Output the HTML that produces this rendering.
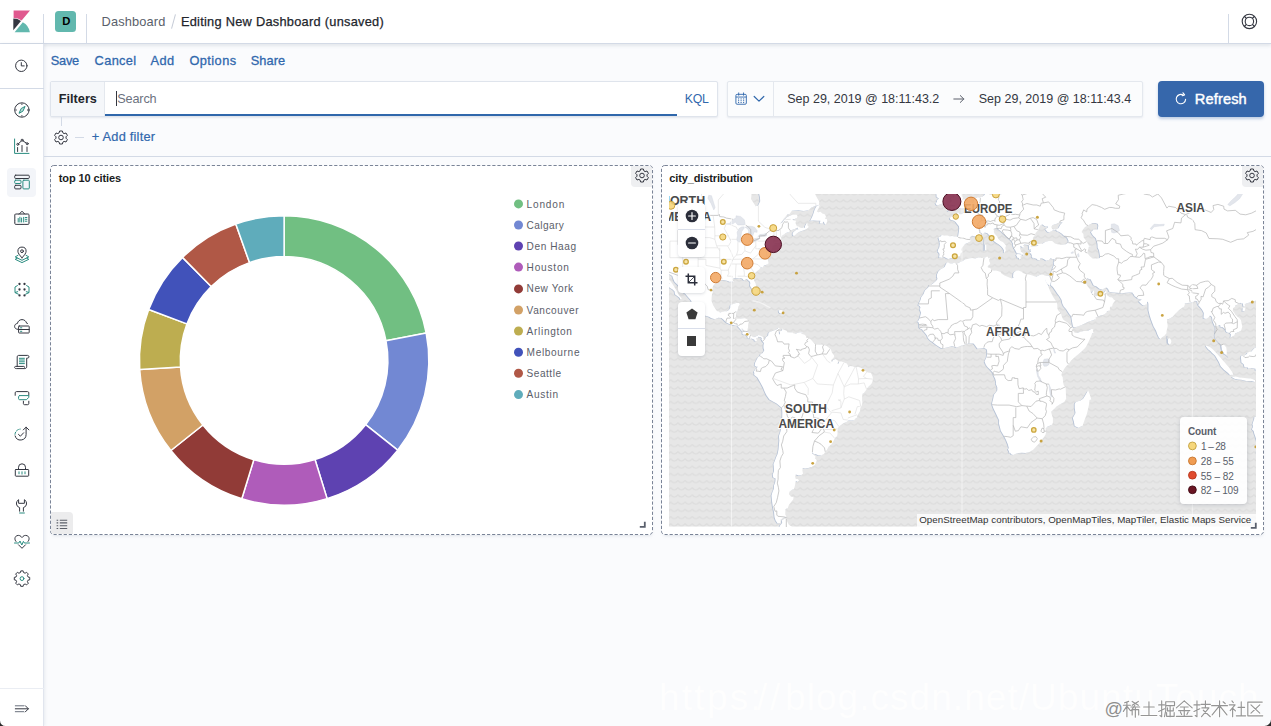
<!DOCTYPE html>
<html>
<head>
<meta charset="utf-8">
<title>Kibana Dashboard</title>
<style>
*{box-sizing:border-box;margin:0;padding:0}
html,body{width:1271px;height:726px;overflow:hidden;background:#fafbfd;font-family:"Liberation Sans",sans-serif;color:#343741}
.abs{position:absolute}
.t{position:absolute;white-space:nowrap;line-height:1}
#header{left:0;top:0;width:1271px;height:44px;background:#fff;border-bottom:1px solid #d3dae6;box-shadow:0 2px 3px rgba(152,162,179,.22)}
#side{left:0;top:44px;width:44px;height:682px;background:#fff;border-right:1px solid #e1e5ee;box-shadow:1px 0 3px rgba(152,162,179,.18)}
.vsep{position:absolute;width:1px;background:#d3dae6;top:14px;height:30px}
.link{color:#2f67ab}
.nav{position:absolute;left:13.5px;width:16px;height:16px;overflow:visible}
.nav *{fill:none;stroke-width:1;stroke-linecap:round;stroke-linejoin:round}
.nav .fd *{fill:#343741;stroke:none}
.d{stroke:#343741}
.g{stroke:#2a8c80}
.panel{position:absolute;background:#fff;border-radius:4px;box-shadow:0 2px 3px -1px rgba(152,162,179,.25)}
.ctl{position:absolute;background:#fff;border-radius:4px;box-shadow:0 1px 3px rgba(90,100,120,.22)}
.lg{font-size:10.8px;color:#5b5e6a}
</style>
</head>
<body>
<!-- HEADER -->
<div id="header" class="abs"></div>
<svg class="abs" style="left:13px;top:9.5px" width="18" height="23" viewBox="0 0 18 23">
  <path d="M0.6 0.4 H17 L8.6 10.4 A14 14 0 0 0 0.6 8 Z" fill="#e0598f"/>
  <path d="M0.3 8.6 A13 13 0 0 1 8 11 L0.3 20.2 Z" fill="#343741"/>
  <path d="M9.8 12.2 A14 14 0 0 1 16.9 22.2 H1.6 Z" fill="#62b8ae"/>
</svg>
<div class="vsep" style="left:43px"></div>
<div class="abs" style="left:55px;top:11px;width:21px;height:21px;border-radius:3.5px;background:#62b8ae"></div>
<div class="vsep" style="left:86px"></div>
<div class="abs" style="left:172.6px;top:14px;width:1px;height:15px;background:#c6ccd7;transform:rotate(15deg)"></div>
<div class="vsep" style="left:1228px"></div>
<svg class="abs" style="left:1241px;top:13px" width="17" height="17" viewBox="0 0 17 17" fill="none" stroke="#343741" stroke-width="1.1">
  <circle cx="8.4" cy="8.4" r="7.2"/><circle cx="8.4" cy="8.4" r="4.2"/>
  <path d="M3.3 3.3l2.1 2.1M13.5 3.3l-2.1 2.1M3.3 13.5l2.1-2.1M13.5 13.5l-2.1-2.1" stroke-width="1.3"/>
</svg>

<!-- SIDEBAR -->
<div id="side" class="abs"></div>
<div class="abs" style="left:0;top:88px;width:44px;height:1px;background:#d3dae6"></div>
<div class="abs" style="left:7px;top:167.5px;width:29px;height:29.5px;border-radius:4px;background:#f3f5f9"></div>
<div class="abs" style="left:0;top:688px;width:44px;height:1px;background:#eaedf3"></div>
<svg class="nav" style="top:57.5px" viewBox="0 0 16 16"><circle class="d" cx="7.300" cy="7.800" r="5.700"/><path class="d" d="M7.300 4.600v3.300h2.900"/></svg>
<svg class="nav" style="top:102.300px" viewBox="0 0 16 16"><circle class="d" cx="7.900" cy="8" r="7.200"/><path class="d" d="M7.900 1.800v0.700M7.900 13.500v0.700M1.700 8h0.700M13.400 8h0.700" stroke-width=".8"/><path class="g" d="M10.900 4.800L8.900 9.200 5 11.300 7 6.900z" style="fill:#2a8c80;fill-opacity:.3"/></svg>
<svg class="nav" style="top:138px" viewBox="0 0 16 16"><path class="g" d="M0.600 1v14.400h14.400" stroke-width="1.100"/><path class="d" d="M3.600 9.500v4M8 7.500v6M13 9v4.500"/><path class="d" d="M3.900 6.200L8.100 2.300 13.200 5.700" stroke-width=".9"/><circle class="d" cx="3.800" cy="6.300" r="1" style="fill:#fff"/><circle class="d" cx="8.100" cy="2.200" r="1" style="fill:#fff"/><circle class="d" cx="13.200" cy="5.700" r="1" style="fill:#fff"/></svg>
<svg class="nav" style="top:174px" viewBox="0 0 16 16"><rect class="d" x="0.700" y="1.200" width="14.600" height="3.300" rx="1" stroke-width="1.100"/><rect class="g" x="0.700" y="6.200" width="6.300" height="3.300" rx=".9" stroke-width="1.100"/><rect class="d" x="0.700" y="11.300" width="6.300" height="3.600" rx="1" stroke-width="1.100"/><rect class="g" x="8.900" y="6.200" width="6.400" height="8.700" rx=".9" stroke-width="1.100"/></svg>
<svg class="nav" style="top:210px" viewBox="0 0 16 16"><path class="d" d="M5.300 4L8 1.200 10.700 4"/><rect class="d" x="0.800" y="4" width="14.200" height="10.400" rx="1" stroke-dasharray="2.200 .5"/><path class="g" d="M4.200 12V8.500M5.900 12V7.200M7.600 12V8M9.700 7.300v4.700M11.300 7.500h1.600M11.300 9.300h1.600M11.300 11.200h1.600" stroke-width=".9"/></svg>
<svg class="nav" style="top:245.500px" viewBox="0 0 16 16"><path class="g" d="M4 9.300L1.200 10.900 8 14.300 14.800 10.900 12 9.300M3.300 12.200L1.200 13.300 8 16.600 14.800 13.300 12.700 12.200" stroke-width=".9"/><path class="d" d="M8 11.800C5.500 9 3.900 7.200 3.900 5.200a4.100 4.100 0 0 1 8.200 0c0 2-1.600 3.800-4.100 6.600z" style="fill:#fff"/><circle class="d" cx="8" cy="5.200" r="1.400"/></svg>
<svg class="nav" style="top:282px" viewBox="0 0 16 16"><g class="fd"><circle cx="5.500" cy="2" r="1.150"/><circle cx="10.500" cy="2" r="1.150"/><circle cx="5.500" cy="7.500" r="1.150"/><circle cx="10.500" cy="7.500" r="1.150"/><circle cx="5.500" cy="13.400" r="1.150"/><circle cx="10.500" cy="13.400" r="1.150"/></g><path class="g" d="M3.400 3.600L1 5v5.600l3.400 1.600M12.600 3.600L15 5v5.600l-3.400 1.600M1.300 10.400l2.400-.7M14.700 10.400l-2.400-.7" stroke-width="1"/></svg>
<svg class="nav" style="top:317.500px" viewBox="0 0 16 16"><path class="d" d="M3.600 11.300C1.600 11.100 0.600 9.900 0.600 8.400c0-1.600 1.200-2.800 2.800-2.900C3.800 3.200 5.700 1.600 8 1.600c2.300 0 4.100 1.500 4.600 3.600.4 0 .7.100 1 .3"/><rect class="d" x="4.600" y="8" width="10.600" height="7" rx=".6" style="fill:#fff" stroke-width="1.100"/><path class="d" d="M4.600 11.500h10.600" stroke-width=".9"/><path class="g" d="M6.500 9.800h1.300M6.500 13.300h1.300" stroke-width="1.100"/></svg>
<svg class="nav" style="top:354px" viewBox="0 0 16 16"><path class="d" d="M3.200 12.500V2.800c0-.8.600-1.400 1.400-1.400h9c.8 0 1.400.6 1.400 1.400s-.6 1.300-1.400 1.300h-.9v8.700c0 1-.8 1.800-1.800 1.800H2.300c-1 0-1.700-.5-1.700-1.300 0-.5.400-.9.900-.9h8.300c.5 0 .9.400.9.900" style="fill:#fff"/><path class="g" d="M5.400 4.300h5M5.400 6h5M5.400 7.800h5M5.400 9.600h5" stroke-width=".9"/></svg>
<svg class="nav" style="top:390px" viewBox="0 0 16 16"><path class="d" d="M1.200 5.300V2.800c0-.7.500-1.200 1.200-1.200h11.200c.7 0 1.200.5 1.200 1.200v2.500M9.400 11.200v2.400c0 .6.500 1.100 1.100 1.100h3.200c.6 0 1.100-.5 1.100-1.100v-2.400" stroke-width="1.100"/><path class="g" d="M5.600 5.600h9.200v1.700l-2.300 2.400H5.600c-.6 0-1-.4-1-1V6.600c0-.6.400-1 1-1z" stroke-width="1.100"/></svg>
<svg class="nav" style="top:426px" viewBox="0 0 16 16"><path class="d" d="M12.100 1.200v7.300a5.600 5.600 0 0 1-11 1.400M9.300 3.900l2.800-2.800 2.800 2.800"/><path class="g" d="M1 8.300a5.600 5.600 0 0 1 5.200-5.200" stroke-dasharray="2.200 1.500"/><path class="d" d="M4.500 8.400l1.900 1.800 3.200-3.400"/></svg>
<svg class="nav" style="top:462px" viewBox="0 0 16 16"><path class="d" d="M4.500 7.500V5.300a3.500 3.500 0 0 1 7 0v2.200"/><rect class="d" x="1.300" y="7.500" width="13.400" height="6.700" rx=".7" stroke-width="1.100"/><path class="g" d="M5 9.800v2M8 9.800v2.300M11 9.800v2" stroke-width="1"/></svg>
<svg class="nav" style="top:498px" viewBox="0 0 16 16"><path class="d" d="M5.600 13.200V9.600A4.300 4.300 0 0 1 4.600 1.700v3.600h5.800V1.700a4.300 4.300 0 0 1-1 7.900v3.600"/><path class="g" d="M5.600 15h4.800" stroke-width="1.100"/></svg>
<svg class="nav" style="top:534px" viewBox="0 0 16 16"><path class="d" d="M2 7.500C.2 5.600.6 2.600 2.900 1.700c1.900-.8 3.900 0 5.100 1.900 1.200-1.900 3.200-2.700 5.100-1.900 2.300.9 2.700 3.900.9 5.800M4.500 10.800L8 14.300l3.500-3.500"/><path class="g" d="M0.500 9h4.300l1.200-2 1.800 4 1.600-3.600 1 1.600h5.100" stroke-width="1"/></svg>
<svg class="nav" style="top:570px" viewBox="0 0 16 16"><path class="d" d="M6.800.9h2.400l.4 1.700 1.500.6 1.500-.9 1.700 1.700-.9 1.500.6 1.500 1.700.4v2.400l-1.700.4-.6 1.500.9 1.500-1.700 1.700-1.500-.9-1.500.6-.4 1.700H6.800l-.4-1.700-1.500-.6-1.500.9-1.700-1.700.9-1.500L2 10.200.3 9.800V7.400L2 7l.6-1.500-.9-1.500 1.700-1.700 1.500.9 1.500-.6z" stroke-dasharray="2.600 .7"/><circle class="g" cx="8" cy="8.600" r="1.900" stroke-width="1.100"/></svg>
<svg class="nav" style="top:700.500px;left:13.500px" viewBox="0 0 16 16"><path d="M1.300 4.800h8.500M1.300 10.700h8.500" stroke="#69707d"/><path d="M1.300 7.800h13M11.300 4.700l3.100 3.100-3.100 3.100" stroke="#343741"/></svg>


<!-- TOP NAV -->

<!-- QUERY BAR -->
<div class="abs" style="left:50px;top:81px;width:667.5px;height:35.5px;background:#fff;border:1px solid #dfe4ec;border-radius:2px;box-shadow:0 1px 2px rgba(152,162,179,.2)"></div>
<div class="abs" style="left:51px;top:82px;width:53.5px;height:33.5px;background:#f5f7fa;border-right:1px solid #e4e8ee"></div>
<div class="abs" style="left:104.5px;top:114.3px;width:572.5px;height:2px;background:#2f67ab"></div>
<div class="abs" style="left:116px;top:90.5px;width:1px;height:15.5px;background:#343741"></div>

<div class="abs" style="left:726.5px;top:81px;width:416.5px;height:35.5px;background:#fbfcfd;border:1px solid #e4e8ee;border-radius:2px;box-shadow:0 1px 2px rgba(152,162,179,.2)"></div>
<div class="abs" style="left:773px;top:81.5px;width:1px;height:34.5px;background:#e4e8ee"></div>
<svg class="abs" style="left:734.6px;top:91.6px" width="12.6" height="13.5" viewBox="0 0 14 15" fill="none" stroke="#2f67ab" stroke-width="1">
  <rect x="1" y="2.6" width="11.6" height="11" rx="1.3"/>
  <path d="M1 5.6h11.6" /><path d="M4.1 1v2.6M9.5 1v2.6" stroke-linecap="round"/>
  <path d="M3.4 7.7h1.2M6.2 7.7h1.2M9 7.7h1.2M3.4 9.7h1.2M6.2 9.7h1.2M9 9.7h1.2M3.4 11.7h1.2M6.2 11.7h1.2M9 11.7h1.2" stroke-width="1.1"/>
</svg>
<svg class="abs" style="left:753px;top:94.5px" width="12" height="8" viewBox="0 0 12 8" fill="none" stroke="#2f67ab" stroke-width="1.2" stroke-linecap="round" stroke-linejoin="round"><path d="M1.2 1.5l4.8 4.6 4.8-4.6"/></svg>
<svg class="abs" style="left:953px;top:94px" width="12" height="10" viewBox="0 0 12 10" fill="none" stroke="#5a5f6a" stroke-width="1" stroke-linecap="round" stroke-linejoin="round"><path d="M0.8 5h10M7.3 1.6l3.5 3.4-3.5 3.4"/></svg>

<div class="abs" style="left:1158px;top:81px;width:106px;height:36px;background:#3667ab;border-radius:4px;box-shadow:0 2px 3px rgba(54,103,171,.3)"></div>
<svg class="abs" style="left:1174px;top:91.5px" width="14" height="14" viewBox="0 0 14 14" fill="none" stroke="#fff" stroke-width="1.1" stroke-linecap="round" stroke-linejoin="round">
  <path d="M11.6 7.4a4.7 4.7 0 1 1-2.2-4.3"/><path d="M9 0.8l1.6 2.1-2.5 0.8"/>
</svg>

<!-- FILTER ROW -->
<div class="abs" style="left:61px;top:117px;width:1px;height:9px;background:#d3dae6"></div>
<svg class="abs" style="left:53px;top:129.5px" width="16" height="16" viewBox="0 0 16 16" fill="none" stroke="#343741" stroke-width="1" stroke-linejoin="round">
  <path id="gearp" d="M6.6 1h2.8l.5 1.9 1.2.7 1.9-.6 1.4 2.4-1.4 1.4v1.4l1.4 1.4-1.4 2.4-1.9-.6-1.2.7-.5 1.9H6.6l-.5-1.9-1.2-.7-1.9.6-1.4-2.4L3 8.2V6.800L1.600 5.400 3 3l1.900.6 1.200-.7z"/>
  <circle cx="8" cy="7.500" r="2.3"/>
</svg>
<div class="abs" style="left:75px;top:137.3px;width:9px;height:1px;background:#d3dae6"></div>
<div class="abs" style="left:44px;top:156px;width:1227px;height:1px;background:#d3dae6"></div>

<!-- PANEL 1 -->
<div class="panel" style="left:50.500px;top:165.500px;width:602px;height:369px"></div>
<svg class="abs" style="left:49px;top:164px" width="606" height="373"><rect x="1.500" y="1.500" width="602" height="369" rx="3.2" fill="none" stroke="#7a8497" stroke-width="1" stroke-dasharray="3.200 1.900"/></svg>
<div class="abs" style="left:631px;top:166px;width:21px;height:21px;background:#eeeff1;border-radius:0 3px 0 4px"></div>
<svg class="abs" style="left:633.5px;top:167.900px" width="16" height="16" viewBox="0 0 16 16" fill="none" stroke="#343741" stroke-width="1" stroke-linejoin="round"><path d="M6.6 1h2.8l.5 1.9 1.2.7 1.9-.6 1.4 2.4-1.4 1.4v1.4l1.4 1.4-1.4 2.4-1.9-.6-1.2.7-.5 1.9H6.6l-.5-1.9-1.2-.7-1.9.6-1.4-2.4L3 8.2V6.800L1.600 5.400 3 3l1.900.6 1.200-.7z"/><circle cx="8" cy="7.500" r="2.3"/></svg>
<div class="abs" style="left:51px;top:512px;width:22px;height:22px;background:#ececed;border-radius:0 4px 0 3px"></div>
<svg class="abs" style="left:56px;top:518.500px" width="12" height="11" viewBox="0 0 12 11" stroke="#5a5e68" stroke-width="1.1" fill="none"><path d="M0.6 1.2h1.6M0.6 3.9h1.6M0.6 6.700h1.6M0.6 9.500h1.6M3.800 1.2h7.400M3.800 3.900h7.400M3.800 6.700h7.400M3.800 9.500h7.400"/></svg>
<svg class="abs" style="left:639px;top:521px" width="8" height="8" viewBox="0 0 8 8" fill="none" stroke="#5a606d" stroke-width="1.800"><path d="M5.800 0.800V5.800H0.800"/></svg>
<svg class="abs" style="left:0;top:0" width="660" height="540" viewBox="0 0 660 540">
<path d="M284.1 215.7A144.7 144.7 0 0 1 426.2 333.0L386.0 340.8A103.8 103.8 0 0 0 284.1 256.6Z" fill="#71bf82" stroke="#fff" stroke-width="1.5" stroke-linejoin="round"/>
<path d="M426.2 333.0A144.7 144.7 0 0 1 397.7 450.1L365.6 424.7A103.8 103.8 0 0 0 386.0 340.8Z" fill="#7288d3" stroke="#fff" stroke-width="1.5" stroke-linejoin="round"/>
<path d="M397.7 450.1A144.7 144.7 0 0 1 327.1 498.6L315.0 459.5A103.8 103.8 0 0 0 365.6 424.7Z" fill="#5e42b1" stroke="#fff" stroke-width="1.5" stroke-linejoin="round"/>
<path d="M327.1 498.6A144.7 144.7 0 0 1 241.8 498.8L253.8 459.7A103.8 103.8 0 0 0 315.0 459.5Z" fill="#af5cba" stroke="#fff" stroke-width="1.5" stroke-linejoin="round"/>
<path d="M241.8 498.8A144.7 144.7 0 0 1 170.9 450.5L202.9 425.0A103.8 103.8 0 0 0 253.8 459.7Z" fill="#913b37" stroke="#fff" stroke-width="1.5" stroke-linejoin="round"/>
<path d="M170.9 450.5A144.7 144.7 0 0 1 139.7 369.5L180.5 366.9A103.8 103.8 0 0 0 202.9 425.0Z" fill="#d2a166" stroke="#fff" stroke-width="1.5" stroke-linejoin="round"/>
<path d="M139.7 369.5A144.7 144.7 0 0 1 148.7 309.5L186.9 323.9A103.8 103.8 0 0 0 180.5 366.9Z" fill="#bdad50" stroke="#fff" stroke-width="1.5" stroke-linejoin="round"/>
<path d="M148.7 309.5A144.7 144.7 0 0 1 182.5 257.4L211.2 286.5A103.8 103.8 0 0 0 186.9 323.9Z" fill="#4152ba" stroke="#fff" stroke-width="1.5" stroke-linejoin="round"/>
<path d="M182.5 257.4A144.7 144.7 0 0 1 235.8 224.0L249.5 262.6A103.8 103.8 0 0 0 211.2 286.5Z" fill="#b05846" stroke="#fff" stroke-width="1.5" stroke-linejoin="round"/>
<path d="M235.8 224.0A144.7 144.7 0 0 1 284.1 215.7L284.1 256.6A103.8 103.8 0 0 0 249.5 262.6Z" fill="#5facbb" stroke="#fff" stroke-width="1.5" stroke-linejoin="round"/>
<circle cx="518.5" cy="203.9" r="4.5" fill="#71bf82"/>
<circle cx="518.5" cy="225" r="4.5" fill="#7288d3"/>
<circle cx="518.5" cy="246" r="4.5" fill="#5e42b1"/>
<circle cx="518.5" cy="267.1" r="4.5" fill="#af5cba"/>
<circle cx="518.5" cy="288.9" r="4.5" fill="#913b37"/>
<circle cx="518.5" cy="310" r="4.5" fill="#d2a166"/>
<circle cx="518.5" cy="331" r="4.5" fill="#bdad50"/>
<circle cx="518.5" cy="352.2" r="4.5" fill="#4152ba"/>
<circle cx="518.5" cy="373.3" r="4.5" fill="#b05846"/>
<circle cx="518.5" cy="394.6" r="4.5" fill="#5facbb"/>
</svg>

<!-- PANEL 2 -->
<div class="panel" style="left:661.500px;top:165.500px;width:602px;height:369px"></div>
<svg class="abs" style="left:660px;top:164px" width="606" height="373"><rect x="1.500" y="1.500" width="602" height="369" rx="3.2" fill="none" stroke="#7a8497" stroke-width="1" stroke-dasharray="3.200 1.900"/></svg>
<div class="abs" style="left:1241.500px;top:166px;width:21.500px;height:20.800px;background:#eeeff1;border-radius:0 3px 0 4px"></div>
<svg class="abs" style="left:1243.600px;top:167.900px" width="16" height="16" viewBox="0 0 16 16" fill="none" stroke="#343741" stroke-width="1" stroke-linejoin="round"><path d="M6.6 1h2.8l.5 1.9 1.2.7 1.9-.6 1.4 2.4-1.4 1.4v1.4l1.4 1.4-1.4 2.4-1.9-.6-1.2.7-.5 1.9H6.6l-.5-1.9-1.2-.7-1.9.6-1.4-2.4L3 8.2V6.800L1.600 5.400 3 3l1.900.6 1.200-.7z"/><circle cx="8" cy="7.500" r="2.3"/></svg>
<svg class="abs" style="left:669px;top:194.0px" width="587" height="332.6" viewBox="669 194.0 587 332.6">
<defs><pattern id="wv" width="7.2" height="7.2" patternUnits="userSpaceOnUse" x="663.45" y="198.2"><path d="M-0.2 1.2Q3.6 6.2 7.4 1.2" fill="none" stroke="#dcdcdc" stroke-width="1.3" opacity=".95"/></pattern></defs>
<rect x="669" y="194.0" width="587" height="332.6" fill="#e7e7e7"/>
<rect x="669" y="194.0" width="587" height="332.6" fill="url(#wv)"/>
<path d="M641.9 156.0L718.7 156.0L720.0 173.1L725.1 181.3L734.1 181.7L737.9 185.9L744.3 189.1L751.2 189.5L751.5 194.8L751.0 199.1L753.3 202.5L755.6 206.2L758.1 205.4L760.2 201.2L759.9 197.0L759.2 194.0L758.1 191.3L763.5 188.2L766.1 183.6L764.8 166.5L796.8 166.5L803.2 178.9L808.3 188.2L814.7 193.1L816.0 196.1L819.3 201.7L818.8 205.0L815.8 205.8L811.4 207.5L808.3 210.3L803.7 210.9L798.1 210.3L791.9 210.7L789.6 213.9L787.3 214.6L785.3 217.0L783.5 218.9L782.0 221.2L780.2 223.5L782.0 222.7L784.0 220.1L786.6 217.6L789.1 216.0L793.0 214.6L796.6 214.8L797.6 216.2L796.8 218.1L794.8 219.1L792.2 218.9L793.7 220.4L796.0 220.8L795.5 223.1L796.6 225.7L798.6 226.4L799.9 227.5L801.4 227.9L803.5 227.4L804.7 228.1L805.0 226.1L806.5 223.5L807.3 223.1L807.6 225.7L808.8 226.8L807.6 228.3L805.8 229.6L803.2 230.6L799.1 232.1L797.1 233.3L794.8 235.5L793.7 236.0L792.6 234.8L792.7 233.0L793.7 231.7L796.0 230.1L797.1 229.4L798.6 229.2L797.1 227.9L796.0 228.3L794.2 229.4L793.0 229.6L790.4 231.0L788.6 232.3L785.8 233.0L784.0 234.4L782.2 235.5L781.1 237.6L781.2 238.8L780.2 240.0L781.2 241.2L782.6 241.7L782.2 240.9L782.9 241.9L782.7 242.6L781.2 242.6L779.6 242.8L779.0 242.9L777.6 243.5L775.3 243.6L773.5 244.6L776.1 244.6L777.9 244.3L776.1 245.3L773.5 245.8L772.5 245.8L772.5 246.5L772.2 248.5L771.5 249.8L770.2 251.3L769.7 250.3L768.6 249.3L768.9 250.8L769.7 251.8L769.7 253.5L768.9 255.1L767.6 257.2L767.4 255.7L766.6 253.5L766.8 250.5L766.1 250.5L766.1 252.8L766.6 255.7L766.6 257.7L767.4 258.0L767.9 260.2L768.6 263.2L767.4 264.2L765.9 265.1L764.0 265.6L762.5 267.4L760.7 267.6L759.2 269.6L757.4 271.1L755.1 272.9L754.0 274.7L753.5 277.1L753.5 278.6L754.0 280.4L754.8 282.1L755.7 283.7L755.8 285.0L756.6 287.4L757.0 288.8L756.9 291.4L756.1 293.1L754.3 293.2L752.8 291.1L752.0 289.1L750.5 286.8L749.9 285.3L750.3 283.3L749.9 281.8L748.4 280.4L746.9 279.0L745.8 279.3L744.3 280.4L743.3 280.1L742.5 278.7L740.5 278.0L738.2 278.3L736.6 278.3L734.3 278.0L732.8 278.6L732.5 280.1L733.5 281.3L733.7 282.1L732.5 281.4L731.0 281.8L729.2 281.8L727.9 281.0L725.9 280.5L723.3 279.9L721.6 280.1L719.5 281.1L717.9 282.3L716.1 283.6L714.1 284.8L713.1 285.9L712.5 287.9L713.1 290.2L713.2 291.1L712.0 294.2L711.7 297.0L711.5 300.9L712.3 303.1L713.1 305.3L714.9 308.0L715.9 309.8L716.9 310.9L718.7 311.4L720.0 312.5L721.8 312.0L724.6 311.3L726.8 311.2L728.2 310.5L729.6 309.1L730.2 307.8L730.3 305.3L731.5 304.4L734.1 303.8L736.2 303.1L739.1 303.1L739.7 304.4L738.2 306.7L737.9 308.9L737.1 311.8L735.9 311.6L736.4 312.7L736.0 314.3L735.9 316.7L734.3 318.5L735.1 319.1L736.6 318.8L737.9 318.7L739.7 318.8L741.7 318.4L744.3 318.3L746.1 318.8L748.4 320.3L749.0 320.9L748.7 322.8L748.1 324.9L748.1 327.5L747.6 329.1L747.4 330.9L747.8 331.7L749.4 334.1L750.5 335.2L751.5 335.9L752.5 336.8L754.0 337.2L755.6 336.4L757.4 335.7L758.4 335.1L759.9 335.5L762.2 336.4L763.8 337.6L765.2 339.2L765.4 337.7L766.6 336.7L768.1 335.4L768.5 333.0L769.9 331.7L771.7 331.2L772.7 330.7L775.3 330.0L777.1 329.1L778.5 327.7L779.9 328.6L779.3 329.6L777.7 330.4L778.6 331.6L778.8 333.5L779.6 334.8L780.0 333.0L779.4 331.6L781.4 330.8L782.2 329.9L782.7 328.3L783.4 329.8L785.3 330.3L786.8 331.1L787.5 332.6L789.6 332.6L792.5 332.4L793.2 333.3L795.5 333.8L797.3 333.0L798.9 332.4L801.2 332.2L803.5 332.2L802.2 332.8L800.9 332.9L802.2 334.1L804.2 334.4L806.0 335.9L806.2 337.7L808.3 337.9L810.4 339.2L812.2 341.1L813.1 342.3L815.2 344.4L818.6 344.8L820.8 344.5L823.7 344.9L826.3 345.7L828.1 347.1L829.6 348.5L830.9 349.5L831.9 352.6L833.9 355.2L834.2 357.0L832.4 359.0L830.9 360.6L831.9 362.1L832.9 360.3L835.2 359.0L837.8 360.4L838.0 362.4L836.8 363.9L838.6 363.6L839.3 361.6L841.6 361.6L844.2 362.6L846.8 363.6L848.0 365.4L848.3 367.2L849.8 366.1L852.4 366.3L854.9 367.2L858.3 367.1L860.8 367.7L863.4 369.3L866.0 371.6L867.8 372.6L871.1 372.9L871.8 374.7L872.6 376.7L872.9 378.5L872.6 380.9L871.6 383.5L870.1 385.3L868.5 386.8L867.0 388.4L865.7 390.8L863.9 393.1L862.4 393.9L862.1 396.8L862.1 400.0L862.4 402.7L861.6 405.9L860.3 408.0L860.1 411.0L858.8 412.9L857.3 415.7L857.0 417.6L854.7 419.2L854.4 420.2L851.4 420.4L848.5 420.6L846.5 422.0L843.4 423.2L841.1 425.0L839.1 426.5L837.8 428.2L837.5 431.1L837.5 434.0L837.0 436.3L835.0 438.1L833.4 441.3L831.6 444.3L828.6 446.7L827.0 449.7L825.2 451.7L824.2 453.7L821.3 455.4L818.1 455.3L815.5 453.9L813.7 453.9L812.4 452.2L812.2 453.7L813.7 454.8L815.5 456.5L815.1 458.6L816.8 460.0L815.8 462.9L814.6 465.2L811.7 467.1L808.3 468.1L805.0 468.4L802.7 467.9L802.4 470.4L803.0 473.8L801.2 475.3L798.6 475.6L795.8 474.4L795.1 476.8L795.8 479.1L797.6 478.9L799.1 480.3L797.6 481.7L795.8 481.0L795.4 483.1L794.8 486.3L794.0 489.1L791.7 489.9L789.4 492.1L788.9 494.3L790.9 496.5L793.6 497.3L793.2 499.5L791.4 501.8L788.9 505.0L787.8 508.1L785.5 509.3L785.3 512.1L785.3 514.6L786.8 517.5L784.0 517.5L780.7 519.6L780.4 523.0L777.6 523.5L775.6 520.5L774.5 517.1L774.0 512.1L772.7 506.1L772.0 501.1L771.5 495.4L772.5 492.1L773.8 489.1L774.0 485.6L775.3 482.0L775.6 478.5L773.2 477.5L772.7 474.4L774.0 471.3L773.8 466.8L773.5 463.9L774.8 461.1L776.1 457.2L777.6 454.0L778.5 449.4L778.9 444.9L779.3 440.3L778.9 436.0L780.4 431.8L781.4 427.4L781.6 422.2L782.2 417.6L782.3 412.6L782.0 408.0L779.3 405.7L776.6 403.5L772.5 401.2L769.4 399.6L766.6 395.6L765.3 392.9L764.4 390.9L763.0 387.6L760.7 383.2L758.9 380.1L757.4 377.5L754.2 374.9L754.3 372.9L753.7 371.8L755.8 368.8L757.1 368.0L757.4 366.2L756.3 366.7L754.6 365.4L755.2 362.4L756.1 360.8L757.0 359.0L758.0 357.3L759.9 356.0L760.4 354.2L762.7 353.1L764.3 350.3L763.5 348.3L763.4 345.7L763.9 342.9L762.5 341.3L761.2 339.1L762.0 338.2L760.7 337.2L758.4 336.8L757.6 337.9L756.1 338.6L757.1 340.7L754.8 341.3L754.3 339.8L752.8 339.0L751.2 338.5L749.7 339.2L749.4 338.2L747.6 338.2L747.6 336.7L746.4 335.5L744.8 334.3L744.1 335.1L742.3 333.8L742.5 331.7L740.5 329.4L738.7 327.5L737.4 326.3L738.2 325.4L736.6 325.7L734.6 325.6L732.0 324.8L728.9 323.8L725.9 322.3L723.3 319.6L721.3 318.0L718.2 317.8L714.9 319.2L711.5 318.3L709.0 316.8L706.1 316.0L703.1 314.7L700.3 313.1L697.2 312.1L694.9 310.1L692.3 308.0L691.3 306.4L692.3 305.7L692.3 303.4L691.0 300.4L689.5 298.7L687.5 296.4L685.4 293.9L682.7 291.9L681.8 289.1L679.5 286.8L678.0 285.3L676.2 283.6L674.6 282.1L673.1 278.6L672.3 275.9L670.3 274.7L668.0 273.8L667.9 276.2L668.8 279.2L671.1 282.1L673.1 285.0L674.6 287.6L676.7 290.8L678.0 293.6L679.5 296.0L681.3 297.8L681.7 299.0L680.4 299.6L679.5 297.8L677.2 295.9L674.9 294.2L674.6 291.4L672.6 289.4L670.0 287.9L667.5 285.6L669.5 283.6L666.2 280.1L663.6 274.7L661.8 271.1L658.5 267.1L653.1 265.6L649.5 257.7L644.4 247.8L644.4 219.3L641.9 211.5L629.1 190.4ZM810.1 220.8L811.9 217.4L813.2 214.3L814.7 209.5L816.5 206.2L819.6 205.0L818.8 207.9L816.8 211.5L818.6 212.3L820.4 211.7L822.4 213.5L824.7 214.3L826.0 216.6L825.0 218.9L826.8 218.9L827.2 221.2L826.0 224.4L824.7 224.2L823.7 221.6L822.2 223.5L819.6 223.5L820.4 220.8L817.3 220.8L813.5 220.6ZM983.3 181.3L984.0 190.9L984.8 194.8L984.0 195.5L982.5 196.6L979.9 197.4L977.4 197.2L975.3 198.3L974.2 199.3L973.3 202.5L972.2 203.5L970.7 205.8L968.4 207.0L966.1 207.9L966.1 210.7L964.8 211.7L962.3 213.5L961.2 214.3L959.2 214.1L958.7 212.7L957.0 212.7L957.9 216.8L956.6 216.8L954.3 216.2L951.8 216.6L949.7 217.8L950.0 219.3L951.2 220.1L953.3 220.4L955.6 222.0L956.9 223.8L958.9 226.3L959.2 228.6L958.8 231.7L958.2 235.8L957.4 236.4L954.3 236.4L952.3 236.0L949.7 236.2L947.4 235.6L944.1 235.6L941.8 234.9L940.5 236.4L938.3 237.6L939.3 240.7L939.8 244.0L939.3 247.2L937.9 250.0L937.7 252.0L939.0 252.8L939.5 254.6L939.0 257.6L941.8 257.7L943.0 257.0L944.3 257.0L945.6 257.7L946.9 258.6L948.4 258.9L950.7 258.3L953.0 258.6L956.4 258.6L957.6 256.7L960.2 255.7L960.7 253.5L962.5 252.0L961.2 249.7L962.0 247.8L964.0 245.5L965.1 244.1L967.6 243.1L970.2 241.4L970.5 240.0L969.7 239.0L969.9 237.2L972.0 235.8L974.3 236.2L975.8 236.5L977.4 237.2L979.2 236.5L980.7 235.1L983.0 234.0L984.8 232.6L987.4 233.3L989.7 235.8L991.5 238.6L993.8 241.1L996.1 242.8L998.9 244.5L1001.2 246.5L1003.0 248.5L1004.0 250.5L1003.7 252.5L1004.5 252.8L1005.8 250.5L1005.3 247.8L1006.1 245.8L1004.5 243.8L1003.0 242.1L1000.4 241.1L998.4 239.0L997.1 236.2L994.8 234.0L993.8 231.9L994.0 230.6L993.5 229.0L995.6 228.1L997.2 228.1L998.6 229.4L1001.2 231.5L1003.5 234.0L1006.1 236.2L1008.6 238.3L1011.2 240.7L1013.0 243.5L1013.0 245.8L1014.0 248.2L1015.5 250.8L1016.6 253.1L1017.8 253.5L1020.6 253.8L1020.9 254.6L1017.6 253.9L1016.0 254.9L1017.3 257.3L1017.6 258.3L1018.6 257.8L1019.4 259.4L1020.4 258.5L1021.4 259.4L1020.3 256.4L1021.4 256.5L1021.2 254.8L1022.4 254.6L1023.6 255.6L1023.6 253.8L1021.7 252.3L1020.8 251.5L1020.6 250.0L1019.9 247.8L1020.6 245.8L1021.9 247.0L1021.9 248.0L1023.2 246.7L1023.5 248.0L1024.5 247.3L1023.0 245.5L1024.5 244.6L1028.3 245.0L1028.7 245.8L1029.1 247.7L1028.8 249.7L1030.9 249.3L1030.4 250.2L1030.9 251.8L1029.6 252.3L1029.4 253.5L1031.4 253.1L1030.6 254.1L1031.8 254.8L1031.7 256.4L1032.2 257.7L1033.7 257.7L1032.2 258.6L1034.5 258.3L1036.5 258.8L1037.8 260.2L1039.9 260.1L1040.4 258.3L1042.4 258.5L1044.0 259.3L1046.1 260.8L1048.8 259.9L1050.6 258.3L1052.4 258.9L1054.7 258.9L1053.9 260.9L1053.7 262.4L1053.9 264.3L1053.7 265.7L1052.9 267.4L1052.2 269.4L1051.6 270.8L1051.0 273.1L1050.2 274.7L1049.6 275.3L1048.6 275.9L1046.8 276.1L1044.7 275.5L1043.4 274.7L1041.4 274.4L1039.7 274.9L1038.6 275.6L1036.3 276.7L1033.7 276.1L1031.7 275.2L1028.6 274.6L1026.4 274.6L1023.5 273.2L1021.2 271.4L1018.3 270.5L1016.8 270.6L1014.8 271.4L1013.4 272.9L1013.0 276.2L1013.5 278.0L1011.2 278.3L1008.1 277.0L1004.5 275.6L1001.4 273.5L1000.9 272.2L998.6 271.2L995.8 270.5L992.7 270.6L991.6 269.7L990.4 268.3L987.9 267.4L987.7 266.2L989.5 264.8L990.3 263.2L989.3 261.5L989.1 259.6L990.3 258.1L990.3 257.5L988.4 258.3L988.1 257.0L987.2 256.6L984.4 257.8L981.8 258.0L980.4 257.4L978.1 257.5L975.1 258.5L972.2 258.0L969.8 258.3L967.1 258.9L965.3 259.3L962.3 261.2L960.3 261.8L958.7 263.1L956.4 263.7L954.4 262.7L952.0 263.4L950.0 263.4L948.7 262.7L947.9 262.4L946.9 262.4L946.2 263.4L944.6 266.9L942.5 268.3L940.2 269.4L938.3 271.5L936.9 274.7L936.8 277.3L937.4 278.0L937.2 279.5L935.9 281.1L933.6 282.9L931.3 284.8L929.0 285.2L928.2 287.5L924.9 290.4L923.6 293.9L921.2 297.3L920.5 300.1L918.6 303.9L918.3 305.3L919.7 305.9L920.5 307.8L919.7 309.3L921.0 312.7L919.7 318.0L918.5 320.4L917.2 321.6L918.7 322.5L919.1 324.6L919.1 327.5L920.3 328.8L922.0 329.2L923.6 331.7L924.6 332.5L926.9 335.4L927.9 337.9L930.0 340.5L932.5 342.1L934.3 343.6L937.7 345.9L941.0 348.1L942.7 348.6L946.6 347.5L951.8 346.3L954.3 346.7L956.6 347.6L959.4 346.5L961.5 345.6L964.6 344.7L968.1 343.5L970.7 343.4L973.5 343.6L974.8 344.9L975.8 346.6L977.5 348.8L979.9 348.5L983.3 348.1L984.8 348.3L986.8 349.5L987.2 352.1L987.0 353.9L986.6 357.2L985.8 358.8L984.5 361.6L985.8 364.7L987.6 367.2L990.2 369.8L992.3 372.1L993.2 374.2L993.6 375.5L995.3 379.1L996.1 382.4L995.8 383.7L997.3 387.4L997.3 390.2L996.3 391.8L994.0 394.7L993.1 399.2L992.1 402.9L992.1 404.7L993.5 408.6L996.3 414.3L999.1 420.2L999.0 423.7L1000.2 428.2L1000.8 430.7L1004.1 436.3L1005.8 439.5L1007.8 444.3L1008.9 448.2L1007.8 449.1L1009.3 452.2L1009.3 453.6L1010.1 452.8L1011.4 454.4L1013.2 455.0L1015.8 453.7L1018.7 453.0L1021.9 452.8L1025.5 453.1L1027.7 452.5L1030.1 451.7L1033.5 449.4L1036.3 446.4L1039.1 443.4L1041.5 440.0L1044.1 436.9L1045.5 434.8L1046.3 431.2L1045.5 428.7L1047.3 426.8L1051.6 425.1L1052.9 422.9L1052.9 418.1L1051.8 414.8L1051.1 411.7L1054.2 409.1L1056.6 406.4L1059.8 404.5L1064.2 401.9L1066.2 398.7L1066.0 396.5L1065.9 393.4L1065.7 388.1L1065.6 386.7L1063.9 385.4L1063.2 382.7L1062.9 379.8L1062.7 377.3L1061.4 375.2L1061.9 372.9L1063.5 370.2L1064.8 368.0L1066.7 365.7L1068.5 364.2L1071.0 360.7L1074.7 357.2L1078.1 354.5L1081.1 352.1L1084.7 348.5L1086.5 345.9L1088.5 342.1L1089.7 339.2L1091.2 335.9L1092.2 333.3L1093.6 332.9L1093.0 330.9L1093.3 329.3L1091.3 329.0L1088.0 330.7L1083.7 331.1L1079.8 332.0L1077.2 332.9L1074.7 332.8L1072.9 330.5L1071.6 329.9L1072.9 328.8L1072.4 327.0L1070.6 325.7L1067.5 322.3L1064.4 320.4L1063.0 319.3L1061.9 316.7L1060.9 312.9L1058.6 311.0L1057.3 308.6L1057.3 304.8L1056.5 302.0L1052.9 296.6L1051.4 293.6L1049.8 290.5L1048.6 287.2L1047.8 285.0L1046.3 282.4L1045.4 279.3L1045.7 281.0L1047.0 283.6L1048.1 284.5L1049.7 285.8L1050.2 284.2L1050.9 281.8L1051.5 280.5L1051.1 283.6L1050.6 284.9L1052.9 287.1L1055.5 290.8L1057.3 293.6L1059.4 296.2L1061.6 299.9L1062.3 303.4L1063.7 306.4L1066.0 308.9L1067.5 311.3L1069.8 314.8L1071.0 315.9L1071.6 318.5L1072.0 321.5L1072.8 325.4L1073.3 327.1L1074.7 327.3L1077.2 326.7L1081.1 325.2L1084.9 323.6L1087.8 322.1L1091.3 320.7L1095.7 319.3L1095.7 317.5L1098.0 316.5L1100.6 315.6L1103.6 314.7L1106.2 313.1L1107.0 311.3L1109.8 310.4L1110.0 307.0L1112.1 306.4L1112.7 303.9L1115.2 300.6L1113.9 299.7L1112.1 297.6L1109.3 296.9L1107.2 295.3L1106.3 293.6L1106.3 291.9L1106.6 289.9L1105.5 290.7L1105.2 291.5L1103.6 292.9L1101.3 295.2L1097.7 296.0L1094.2 296.3L1093.4 295.0L1094.2 292.8L1093.9 290.9L1093.1 290.4L1092.1 292.2L1092.2 294.1L1090.6 292.2L1090.3 289.7L1089.0 287.9L1087.0 285.6L1086.2 283.6L1085.4 282.1L1084.8 281.0L1085.4 280.4L1086.2 279.3L1087.5 278.2L1089.0 279.0L1090.6 279.2L1092.1 282.3L1093.6 285.5L1096.7 286.6L1099.3 288.8L1102.3 289.4L1106.2 287.5L1108.0 288.8L1109.3 291.7L1113.1 292.5L1117.2 292.8L1119.8 293.1L1121.6 293.2L1125.9 292.8L1129.8 292.6L1132.6 292.5L1132.3 293.1L1133.6 294.2L1134.6 296.2L1136.7 297.6L1137.7 298.7L1141.8 299.4L1139.2 301.2L1138.6 301.3L1140.3 303.1L1142.3 305.0L1143.8 305.6L1146.7 304.2L1147.2 301.5L1148.2 302.8L1148.4 304.5L1148.4 310.2L1149.7 315.6L1151.0 319.6L1153.6 326.5L1156.1 330.8L1157.3 334.2L1159.1 337.9L1160.6 339.0L1162.1 337.2L1164.3 335.9L1166.5 333.3L1166.5 331.5L1167.7 326.0L1167.1 322.3L1167.1 319.6L1169.4 318.8L1172.7 316.7L1175.3 313.7L1179.2 309.9L1181.9 308.0L1184.0 306.7L1184.8 304.8L1184.8 303.4L1187.6 303.0L1189.9 302.8L1193.3 302.0L1194.8 300.8L1197.2 301.2L1197.6 303.7L1198.4 305.5L1199.9 307.1L1202.0 309.4L1203.8 312.9L1203.5 318.3L1206.1 318.9L1208.4 317.5L1210.0 315.6L1212.0 316.9L1212.5 320.9L1213.5 323.4L1214.8 326.5L1217.1 326.5L1218.1 325.4L1219.4 324.9L1220.5 325.7L1220.4 327.1L1222.2 327.1L1224.0 328.3L1225.5 329.8L1226.0 331.5L1227.1 332.5L1229.5 333.0L1230.9 334.3L1230.4 337.7L1231.9 336.7L1234.2 335.4L1235.3 333.3L1236.3 333.1L1238.6 332.1L1241.2 330.4L1241.8 328.2L1242.3 326.5L1241.8 324.2L1240.9 320.1L1239.2 318.0L1237.6 316.7L1235.0 314.3L1234.5 312.9L1232.7 310.8L1233.2 308.2L1235.0 306.7L1235.5 305.3L1237.1 304.8L1238.6 303.4L1240.1 302.8L1241.4 303.5L1243.0 303.5L1243.0 305.0L1243.5 306.7L1245.0 306.1L1244.7 304.2L1246.3 303.5L1248.8 302.7L1251.4 302.0L1252.8 301.5L1254.5 301.2L1256.0 300.4L1259.1 299.5L1261.6 297.8L1269.3 287.9L1282.1 279.2L1282.1 156.0L1015.8 156.0L1015.8 188.2L1013.2 190.9L1012.2 192.9L1009.9 193.1L1008.1 191.3L1003.0 193.7L998.4 195.0L996.6 192.2L994.0 192.9L993.0 194.2L991.5 194.8L989.9 194.8L987.9 193.1L987.1 190.4L988.9 183.6L990.2 176.5L982.5 176.5ZM947.4 211.3L948.7 211.6L951.5 210.1L952.7 210.6L953.3 209.1L955.7 209.3L957.0 209.1L958.7 208.5L960.0 208.6L962.6 208.5L964.4 207.9L965.6 206.8L965.7 205.9L963.3 205.6L964.6 204.2L965.3 203.5L966.5 201.2L965.3 199.4L963.3 199.3L962.8 200.0L962.0 199.6L962.9 198.3L962.4 197.0L961.5 196.1L961.8 194.3L961.0 193.5L958.9 192.2L958.4 190.4L956.9 186.8L958.2 176.5L946.6 176.5L949.2 190.4L953.3 190.9L952.8 192.6L953.8 194.4L954.7 194.4L954.2 195.7L954.3 197.4L953.5 197.6L951.5 197.9L950.1 197.9L951.0 198.7L949.8 200.0L951.5 199.6L951.6 201.2L950.0 202.9L948.4 203.8L948.9 204.8L951.0 204.8L952.3 205.0L953.8 205.6L955.1 205.0L954.3 206.6L951.2 206.6L950.3 207.5L949.1 209.9ZM936.9 205.6L940.7 204.2L944.1 202.9L945.7 202.6L946.1 200.8L946.6 199.1L946.4 197.6L945.7 194.8L947.9 193.1L947.1 189.5L942.8 188.6L940.2 190.4L940.7 192.6L940.0 193.5L936.4 194.0L936.6 197.0L939.0 198.5L937.7 199.6L936.6 201.0L937.2 202.1L935.4 202.9L935.9 204.2ZM1254.4 417.0L1254.2 419.0L1253.2 421.8L1252.4 424.6L1252.9 425.7L1252.7 427.7L1251.8 429.2L1253.7 431.1L1254.3 433.7L1255.5 436.9L1256.5 440.4L1257.6 444.3L1258.4 446.4L1258.2 450.3L1256.5 451.3L1256.8 453.7L1264.2 455.6L1282.1 452.5L1282.1 406.7L1271.9 410.7L1266.8 412.1L1260.9 413.9L1256.5 416.2ZM1088.2 390.6L1089.8 394.4L1091.3 399.5L1089.5 400.0L1089.3 402.7L1088.5 407.1L1087.0 413.5L1084.7 419.8L1082.6 425.8L1078.3 427.7L1074.7 426.0L1073.8 421.3L1072.8 418.1L1075.5 412.9L1074.7 408.0L1074.7 404.0L1075.8 401.9L1078.0 401.2L1080.6 400.5L1083.1 398.7L1084.7 396.3L1085.7 394.4L1087.2 391.8ZM1241.2 355.8L1242.8 354.5L1244.5 355.4L1247.1 353.7L1247.3 352.6L1251.4 351.6L1254.0 348.5L1256.3 347.1L1259.1 342.1L1264.2 344.4L1264.2 370.1L1259.1 370.1L1255.5 370.3L1255.5 368.8L1254.0 368.5L1251.4 368.0L1248.3 368.8L1247.8 367.5L1244.5 367.2L1243.7 364.2L1241.4 362.4L1241.2 359.8L1240.9 357.8ZM1036.5 243.7L1034.2 242.6L1033.7 241.1L1032.7 239.3L1033.5 236.9L1035.2 235.6L1035.4 233.3L1037.9 230.5L1039.6 226.8L1040.8 225.0L1042.7 224.6L1044.0 225.7L1045.5 226.4L1048.1 226.4L1047.8 227.4L1045.2 229.2L1047.5 231.9L1049.1 232.6L1052.7 230.5L1055.4 230.1L1055.7 229.0L1052.9 229.4L1051.6 227.9L1051.4 226.8L1052.4 225.3L1054.2 224.4L1056.2 224.0L1058.0 222.9L1060.1 222.5L1062.7 222.3L1060.6 224.2L1059.3 226.4L1058.3 228.3L1056.4 229.0L1056.0 230.1L1057.5 231.5L1058.8 231.7L1061.9 233.7L1063.7 235.6L1067.0 237.6L1068.5 240.7L1068.4 242.4L1065.7 244.3L1063.7 244.5L1060.3 244.8L1056.8 244.0L1055.0 243.5L1052.2 241.1L1048.6 241.1L1045.0 241.9L1042.4 243.8L1039.6 243.8ZM1084.9 227.2L1088.8 225.0L1092.6 223.1L1094.9 223.1L1097.7 223.8L1098.3 225.7L1097.7 229.4L1093.4 229.4L1092.6 230.5L1090.8 231.9L1092.9 235.5L1095.9 238.3L1097.0 242.1L1097.5 244.1L1097.7 247.8L1099.0 250.2L1100.0 256.1L1100.0 258.0L1096.5 258.6L1092.6 258.6L1090.1 256.4L1087.2 253.1L1088.0 250.2L1088.8 246.8L1091.1 246.7L1089.0 246.0L1086.7 241.4L1083.7 237.6L1083.4 234.0L1081.6 231.9L1082.9 229.7ZM1030.4 246.5L1032.4 244.6L1033.7 244.3L1036.0 244.5L1038.6 245.3L1036.3 246.3L1033.7 246.5L1031.9 246.5ZM1206.1 345.6L1209.9 347.0L1213.0 349.5L1215.3 352.1L1217.9 354.7L1220.2 357.2L1222.2 359.8L1224.8 362.4L1226.8 364.9L1229.1 367.5L1230.7 370.1L1232.5 372.6L1233.2 374.7L1229.9 374.9L1228.1 373.1L1224.0 369.8L1220.7 366.2L1219.0 362.2L1217.3 359.3L1215.0 355.4L1212.2 353.1L1210.7 351.3L1208.1 349.2L1205.8 346.2ZM1232.2 376.7L1235.5 376.5L1239.9 377.5L1244.7 378.0L1250.6 378.5L1255.0 380.1L1255.2 381.9L1251.4 381.1L1246.3 381.0L1241.2 379.7L1237.8 379.6L1234.5 378.7L1232.2 377.4ZM786.3 519.0L787.3 521.7L788.9 524.8L792.2 527.0L795.0 527.6L791.7 529.4L786.6 530.5L782.7 530.1L778.9 527.8L780.2 525.2L782.2 523.0L781.7 520.5L784.3 518.8ZM1168.2 338.5L1170.0 338.2L1171.4 341.1L1170.9 343.6L1169.2 344.5L1168.0 343.1L1167.9 340.8ZM1220.9 345.2L1224.0 344.7L1226.3 347.5L1226.8 351.6L1226.6 354.7L1224.5 354.4L1222.2 351.6L1221.4 348.5ZM778.6 310.2L781.2 309.9L783.0 310.8L783.0 313.2L780.2 313.6L778.9 312.4ZM1242.7 307.8L1245.5 307.8L1245.0 310.8L1242.4 311.3ZM984.8 244.5L986.3 244.5L986.3 250.2L984.8 250.2Z" fill="#b7c3d6" fill-rule="evenodd" transform="translate(-0.85,0.35)"/>
<path d="M641.9 156.0L718.7 156.0L720.0 173.1L725.1 181.3L734.1 181.7L737.9 185.9L744.3 189.1L751.2 189.5L751.5 194.8L751.0 199.1L753.3 202.5L755.6 206.2L758.1 205.4L760.2 201.2L759.9 197.0L759.2 194.0L758.1 191.3L763.5 188.2L766.1 183.6L764.8 166.5L796.8 166.5L803.2 178.9L808.3 188.2L814.7 193.1L816.0 196.1L819.3 201.7L818.8 205.0L815.8 205.8L811.4 207.5L808.3 210.3L803.7 210.9L798.1 210.3L791.9 210.7L789.6 213.9L787.3 214.6L785.3 217.0L783.5 218.9L782.0 221.2L780.2 223.5L782.0 222.7L784.0 220.1L786.6 217.6L789.1 216.0L793.0 214.6L796.6 214.8L797.6 216.2L796.8 218.1L794.8 219.1L792.2 218.9L793.7 220.4L796.0 220.8L795.5 223.1L796.6 225.7L798.6 226.4L799.9 227.5L801.4 227.9L803.5 227.4L804.7 228.1L805.0 226.1L806.5 223.5L807.3 223.1L807.6 225.7L808.8 226.8L807.6 228.3L805.8 229.6L803.2 230.6L799.1 232.1L797.1 233.3L794.8 235.5L793.7 236.0L792.6 234.8L792.7 233.0L793.7 231.7L796.0 230.1L797.1 229.4L798.6 229.2L797.1 227.9L796.0 228.3L794.2 229.4L793.0 229.6L790.4 231.0L788.6 232.3L785.8 233.0L784.0 234.4L782.2 235.5L781.1 237.6L781.2 238.8L780.2 240.0L781.2 241.2L782.6 241.7L782.2 240.9L782.9 241.9L782.7 242.6L781.2 242.6L779.6 242.8L779.0 242.9L777.6 243.5L775.3 243.6L773.5 244.6L776.1 244.6L777.9 244.3L776.1 245.3L773.5 245.8L772.5 245.8L772.5 246.5L772.2 248.5L771.5 249.8L770.2 251.3L769.7 250.3L768.6 249.3L768.9 250.8L769.7 251.8L769.7 253.5L768.9 255.1L767.6 257.2L767.4 255.7L766.6 253.5L766.8 250.5L766.1 250.5L766.1 252.8L766.6 255.7L766.6 257.7L767.4 258.0L767.9 260.2L768.6 263.2L767.4 264.2L765.9 265.1L764.0 265.6L762.5 267.4L760.7 267.6L759.2 269.6L757.4 271.1L755.1 272.9L754.0 274.7L753.5 277.1L753.5 278.6L754.0 280.4L754.8 282.1L755.7 283.7L755.8 285.0L756.6 287.4L757.0 288.8L756.9 291.4L756.1 293.1L754.3 293.2L752.8 291.1L752.0 289.1L750.5 286.8L749.9 285.3L750.3 283.3L749.9 281.8L748.4 280.4L746.9 279.0L745.8 279.3L744.3 280.4L743.3 280.1L742.5 278.7L740.5 278.0L738.2 278.3L736.6 278.3L734.3 278.0L732.8 278.6L732.5 280.1L733.5 281.3L733.7 282.1L732.5 281.4L731.0 281.8L729.2 281.8L727.9 281.0L725.9 280.5L723.3 279.9L721.6 280.1L719.5 281.1L717.9 282.3L716.1 283.6L714.1 284.8L713.1 285.9L712.5 287.9L713.1 290.2L713.2 291.1L712.0 294.2L711.7 297.0L711.5 300.9L712.3 303.1L713.1 305.3L714.9 308.0L715.9 309.8L716.9 310.9L718.7 311.4L720.0 312.5L721.8 312.0L724.6 311.3L726.8 311.2L728.2 310.5L729.6 309.1L730.2 307.8L730.3 305.3L731.5 304.4L734.1 303.8L736.2 303.1L739.1 303.1L739.7 304.4L738.2 306.7L737.9 308.9L737.1 311.8L735.9 311.6L736.4 312.7L736.0 314.3L735.9 316.7L734.3 318.5L735.1 319.1L736.6 318.8L737.9 318.7L739.7 318.8L741.7 318.4L744.3 318.3L746.1 318.8L748.4 320.3L749.0 320.9L748.7 322.8L748.1 324.9L748.1 327.5L747.6 329.1L747.4 330.9L747.8 331.7L749.4 334.1L750.5 335.2L751.5 335.9L752.5 336.8L754.0 337.2L755.6 336.4L757.4 335.7L758.4 335.1L759.9 335.5L762.2 336.4L763.8 337.6L765.2 339.2L765.4 337.7L766.6 336.7L768.1 335.4L768.5 333.0L769.9 331.7L771.7 331.2L772.7 330.7L775.3 330.0L777.1 329.1L778.5 327.7L779.9 328.6L779.3 329.6L777.7 330.4L778.6 331.6L778.8 333.5L779.6 334.8L780.0 333.0L779.4 331.6L781.4 330.8L782.2 329.9L782.7 328.3L783.4 329.8L785.3 330.3L786.8 331.1L787.5 332.6L789.6 332.6L792.5 332.4L793.2 333.3L795.5 333.8L797.3 333.0L798.9 332.4L801.2 332.2L803.5 332.2L802.2 332.8L800.9 332.9L802.2 334.1L804.2 334.4L806.0 335.9L806.2 337.7L808.3 337.9L810.4 339.2L812.2 341.1L813.1 342.3L815.2 344.4L818.6 344.8L820.8 344.5L823.7 344.9L826.3 345.7L828.1 347.1L829.6 348.5L830.9 349.5L831.9 352.6L833.9 355.2L834.2 357.0L832.4 359.0L830.9 360.6L831.9 362.1L832.9 360.3L835.2 359.0L837.8 360.4L838.0 362.4L836.8 363.9L838.6 363.6L839.3 361.6L841.6 361.6L844.2 362.6L846.8 363.6L848.0 365.4L848.3 367.2L849.8 366.1L852.4 366.3L854.9 367.2L858.3 367.1L860.8 367.7L863.4 369.3L866.0 371.6L867.8 372.6L871.1 372.9L871.8 374.7L872.6 376.7L872.9 378.5L872.6 380.9L871.6 383.5L870.1 385.3L868.5 386.8L867.0 388.4L865.7 390.8L863.9 393.1L862.4 393.9L862.1 396.8L862.1 400.0L862.4 402.7L861.6 405.9L860.3 408.0L860.1 411.0L858.8 412.9L857.3 415.7L857.0 417.6L854.7 419.2L854.4 420.2L851.4 420.4L848.5 420.6L846.5 422.0L843.4 423.2L841.1 425.0L839.1 426.5L837.8 428.2L837.5 431.1L837.5 434.0L837.0 436.3L835.0 438.1L833.4 441.3L831.6 444.3L828.6 446.7L827.0 449.7L825.2 451.7L824.2 453.7L821.3 455.4L818.1 455.3L815.5 453.9L813.7 453.9L812.4 452.2L812.2 453.7L813.7 454.8L815.5 456.5L815.1 458.6L816.8 460.0L815.8 462.9L814.6 465.2L811.7 467.1L808.3 468.1L805.0 468.4L802.7 467.9L802.4 470.4L803.0 473.8L801.2 475.3L798.6 475.6L795.8 474.4L795.1 476.8L795.8 479.1L797.6 478.9L799.1 480.3L797.6 481.7L795.8 481.0L795.4 483.1L794.8 486.3L794.0 489.1L791.7 489.9L789.4 492.1L788.9 494.3L790.9 496.5L793.6 497.3L793.2 499.5L791.4 501.8L788.9 505.0L787.8 508.1L785.5 509.3L785.3 512.1L785.3 514.6L786.8 517.5L784.0 517.5L780.7 519.6L780.4 523.0L777.6 523.5L775.6 520.5L774.5 517.1L774.0 512.1L772.7 506.1L772.0 501.1L771.5 495.4L772.5 492.1L773.8 489.1L774.0 485.6L775.3 482.0L775.6 478.5L773.2 477.5L772.7 474.4L774.0 471.3L773.8 466.8L773.5 463.9L774.8 461.1L776.1 457.2L777.6 454.0L778.5 449.4L778.9 444.9L779.3 440.3L778.9 436.0L780.4 431.8L781.4 427.4L781.6 422.2L782.2 417.6L782.3 412.6L782.0 408.0L779.3 405.7L776.6 403.5L772.5 401.2L769.4 399.6L766.6 395.6L765.3 392.9L764.4 390.9L763.0 387.6L760.7 383.2L758.9 380.1L757.4 377.5L754.2 374.9L754.3 372.9L753.7 371.8L755.8 368.8L757.1 368.0L757.4 366.2L756.3 366.7L754.6 365.4L755.2 362.4L756.1 360.8L757.0 359.0L758.0 357.3L759.9 356.0L760.4 354.2L762.7 353.1L764.3 350.3L763.5 348.3L763.4 345.7L763.9 342.9L762.5 341.3L761.2 339.1L762.0 338.2L760.7 337.2L758.4 336.8L757.6 337.9L756.1 338.6L757.1 340.7L754.8 341.3L754.3 339.8L752.8 339.0L751.2 338.5L749.7 339.2L749.4 338.2L747.6 338.2L747.6 336.7L746.4 335.5L744.8 334.3L744.1 335.1L742.3 333.8L742.5 331.7L740.5 329.4L738.7 327.5L737.4 326.3L738.2 325.4L736.6 325.7L734.6 325.6L732.0 324.8L728.9 323.8L725.9 322.3L723.3 319.6L721.3 318.0L718.2 317.8L714.9 319.2L711.5 318.3L709.0 316.8L706.1 316.0L703.1 314.7L700.3 313.1L697.2 312.1L694.9 310.1L692.3 308.0L691.3 306.4L692.3 305.7L692.3 303.4L691.0 300.4L689.5 298.7L687.5 296.4L685.4 293.9L682.7 291.9L681.8 289.1L679.5 286.8L678.0 285.3L676.2 283.6L674.6 282.1L673.1 278.6L672.3 275.9L670.3 274.7L668.0 273.8L667.9 276.2L668.8 279.2L671.1 282.1L673.1 285.0L674.6 287.6L676.7 290.8L678.0 293.6L679.5 296.0L681.3 297.8L681.7 299.0L680.4 299.6L679.5 297.8L677.2 295.9L674.9 294.2L674.6 291.4L672.6 289.4L670.0 287.9L667.5 285.6L669.5 283.6L666.2 280.1L663.6 274.7L661.8 271.1L658.5 267.1L653.1 265.6L649.5 257.7L644.4 247.8L644.4 219.3L641.9 211.5L629.1 190.4ZM810.1 220.8L811.9 217.4L813.2 214.3L814.7 209.5L816.5 206.2L819.6 205.0L818.8 207.9L816.8 211.5L818.6 212.3L820.4 211.7L822.4 213.5L824.7 214.3L826.0 216.6L825.0 218.9L826.8 218.9L827.2 221.2L826.0 224.4L824.7 224.2L823.7 221.6L822.2 223.5L819.6 223.5L820.4 220.8L817.3 220.8L813.5 220.6ZM983.3 181.3L984.0 190.9L984.8 194.8L984.0 195.5L982.5 196.6L979.9 197.4L977.4 197.2L975.3 198.3L974.2 199.3L973.3 202.5L972.2 203.5L970.7 205.8L968.4 207.0L966.1 207.9L966.1 210.7L964.8 211.7L962.3 213.5L961.2 214.3L959.2 214.1L958.7 212.7L957.0 212.7L957.9 216.8L956.6 216.8L954.3 216.2L951.8 216.6L949.7 217.8L950.0 219.3L951.2 220.1L953.3 220.4L955.6 222.0L956.9 223.8L958.9 226.3L959.2 228.6L958.8 231.7L958.2 235.8L957.4 236.4L954.3 236.4L952.3 236.0L949.7 236.2L947.4 235.6L944.1 235.6L941.8 234.9L940.5 236.4L938.3 237.6L939.3 240.7L939.8 244.0L939.3 247.2L937.9 250.0L937.7 252.0L939.0 252.8L939.5 254.6L939.0 257.6L941.8 257.7L943.0 257.0L944.3 257.0L945.6 257.7L946.9 258.6L948.4 258.9L950.7 258.3L953.0 258.6L956.4 258.6L957.6 256.7L960.2 255.7L960.7 253.5L962.5 252.0L961.2 249.7L962.0 247.8L964.0 245.5L965.1 244.1L967.6 243.1L970.2 241.4L970.5 240.0L969.7 239.0L969.9 237.2L972.0 235.8L974.3 236.2L975.8 236.5L977.4 237.2L979.2 236.5L980.7 235.1L983.0 234.0L984.8 232.6L987.4 233.3L989.7 235.8L991.5 238.6L993.8 241.1L996.1 242.8L998.9 244.5L1001.2 246.5L1003.0 248.5L1004.0 250.5L1003.7 252.5L1004.5 252.8L1005.8 250.5L1005.3 247.8L1006.1 245.8L1004.5 243.8L1003.0 242.1L1000.4 241.1L998.4 239.0L997.1 236.2L994.8 234.0L993.8 231.9L994.0 230.6L993.5 229.0L995.6 228.1L997.2 228.1L998.6 229.4L1001.2 231.5L1003.5 234.0L1006.1 236.2L1008.6 238.3L1011.2 240.7L1013.0 243.5L1013.0 245.8L1014.0 248.2L1015.5 250.8L1016.6 253.1L1017.8 253.5L1020.6 253.8L1020.9 254.6L1017.6 253.9L1016.0 254.9L1017.3 257.3L1017.6 258.3L1018.6 257.8L1019.4 259.4L1020.4 258.5L1021.4 259.4L1020.3 256.4L1021.4 256.5L1021.2 254.8L1022.4 254.6L1023.6 255.6L1023.6 253.8L1021.7 252.3L1020.8 251.5L1020.6 250.0L1019.9 247.8L1020.6 245.8L1021.9 247.0L1021.9 248.0L1023.2 246.7L1023.5 248.0L1024.5 247.3L1023.0 245.5L1024.5 244.6L1028.3 245.0L1028.7 245.8L1029.1 247.7L1028.8 249.7L1030.9 249.3L1030.4 250.2L1030.9 251.8L1029.6 252.3L1029.4 253.5L1031.4 253.1L1030.6 254.1L1031.8 254.8L1031.7 256.4L1032.2 257.7L1033.7 257.7L1032.2 258.6L1034.5 258.3L1036.5 258.8L1037.8 260.2L1039.9 260.1L1040.4 258.3L1042.4 258.5L1044.0 259.3L1046.1 260.8L1048.8 259.9L1050.6 258.3L1052.4 258.9L1054.7 258.9L1053.9 260.9L1053.7 262.4L1053.9 264.3L1053.7 265.7L1052.9 267.4L1052.2 269.4L1051.6 270.8L1051.0 273.1L1050.2 274.7L1049.6 275.3L1048.6 275.9L1046.8 276.1L1044.7 275.5L1043.4 274.7L1041.4 274.4L1039.7 274.9L1038.6 275.6L1036.3 276.7L1033.7 276.1L1031.7 275.2L1028.6 274.6L1026.4 274.6L1023.5 273.2L1021.2 271.4L1018.3 270.5L1016.8 270.6L1014.8 271.4L1013.4 272.9L1013.0 276.2L1013.5 278.0L1011.2 278.3L1008.1 277.0L1004.5 275.6L1001.4 273.5L1000.9 272.2L998.6 271.2L995.8 270.5L992.7 270.6L991.6 269.7L990.4 268.3L987.9 267.4L987.7 266.2L989.5 264.8L990.3 263.2L989.3 261.5L989.1 259.6L990.3 258.1L990.3 257.5L988.4 258.3L988.1 257.0L987.2 256.6L984.4 257.8L981.8 258.0L980.4 257.4L978.1 257.5L975.1 258.5L972.2 258.0L969.8 258.3L967.1 258.9L965.3 259.3L962.3 261.2L960.3 261.8L958.7 263.1L956.4 263.7L954.4 262.7L952.0 263.4L950.0 263.4L948.7 262.7L947.9 262.4L946.9 262.4L946.2 263.4L944.6 266.9L942.5 268.3L940.2 269.4L938.3 271.5L936.9 274.7L936.8 277.3L937.4 278.0L937.2 279.5L935.9 281.1L933.6 282.9L931.3 284.8L929.0 285.2L928.2 287.5L924.9 290.4L923.6 293.9L921.2 297.3L920.5 300.1L918.6 303.9L918.3 305.3L919.7 305.9L920.5 307.8L919.7 309.3L921.0 312.7L919.7 318.0L918.5 320.4L917.2 321.6L918.7 322.5L919.1 324.6L919.1 327.5L920.3 328.8L922.0 329.2L923.6 331.7L924.6 332.5L926.9 335.4L927.9 337.9L930.0 340.5L932.5 342.1L934.3 343.6L937.7 345.9L941.0 348.1L942.7 348.6L946.6 347.5L951.8 346.3L954.3 346.7L956.6 347.6L959.4 346.5L961.5 345.6L964.6 344.7L968.1 343.5L970.7 343.4L973.5 343.6L974.8 344.9L975.8 346.6L977.5 348.8L979.9 348.5L983.3 348.1L984.8 348.3L986.8 349.5L987.2 352.1L987.0 353.9L986.6 357.2L985.8 358.8L984.5 361.6L985.8 364.7L987.6 367.2L990.2 369.8L992.3 372.1L993.2 374.2L993.6 375.5L995.3 379.1L996.1 382.4L995.8 383.7L997.3 387.4L997.3 390.2L996.3 391.8L994.0 394.7L993.1 399.2L992.1 402.9L992.1 404.7L993.5 408.6L996.3 414.3L999.1 420.2L999.0 423.7L1000.2 428.2L1000.8 430.7L1004.1 436.3L1005.8 439.5L1007.8 444.3L1008.9 448.2L1007.8 449.1L1009.3 452.2L1009.3 453.6L1010.1 452.8L1011.4 454.4L1013.2 455.0L1015.8 453.7L1018.7 453.0L1021.9 452.8L1025.5 453.1L1027.7 452.5L1030.1 451.7L1033.5 449.4L1036.3 446.4L1039.1 443.4L1041.5 440.0L1044.1 436.9L1045.5 434.8L1046.3 431.2L1045.5 428.7L1047.3 426.8L1051.6 425.1L1052.9 422.9L1052.9 418.1L1051.8 414.8L1051.1 411.7L1054.2 409.1L1056.6 406.4L1059.8 404.5L1064.2 401.9L1066.2 398.7L1066.0 396.5L1065.9 393.4L1065.7 388.1L1065.6 386.7L1063.9 385.4L1063.2 382.7L1062.9 379.8L1062.7 377.3L1061.4 375.2L1061.9 372.9L1063.5 370.2L1064.8 368.0L1066.7 365.7L1068.5 364.2L1071.0 360.7L1074.7 357.2L1078.1 354.5L1081.1 352.1L1084.7 348.5L1086.5 345.9L1088.5 342.1L1089.7 339.2L1091.2 335.9L1092.2 333.3L1093.6 332.9L1093.0 330.9L1093.3 329.3L1091.3 329.0L1088.0 330.7L1083.7 331.1L1079.8 332.0L1077.2 332.9L1074.7 332.8L1072.9 330.5L1071.6 329.9L1072.9 328.8L1072.4 327.0L1070.6 325.7L1067.5 322.3L1064.4 320.4L1063.0 319.3L1061.9 316.7L1060.9 312.9L1058.6 311.0L1057.3 308.6L1057.3 304.8L1056.5 302.0L1052.9 296.6L1051.4 293.6L1049.8 290.5L1048.6 287.2L1047.8 285.0L1046.3 282.4L1045.4 279.3L1045.7 281.0L1047.0 283.6L1048.1 284.5L1049.7 285.8L1050.2 284.2L1050.9 281.8L1051.5 280.5L1051.1 283.6L1050.6 284.9L1052.9 287.1L1055.5 290.8L1057.3 293.6L1059.4 296.2L1061.6 299.9L1062.3 303.4L1063.7 306.4L1066.0 308.9L1067.5 311.3L1069.8 314.8L1071.0 315.9L1071.6 318.5L1072.0 321.5L1072.8 325.4L1073.3 327.1L1074.7 327.3L1077.2 326.7L1081.1 325.2L1084.9 323.6L1087.8 322.1L1091.3 320.7L1095.7 319.3L1095.7 317.5L1098.0 316.5L1100.6 315.6L1103.6 314.7L1106.2 313.1L1107.0 311.3L1109.8 310.4L1110.0 307.0L1112.1 306.4L1112.7 303.9L1115.2 300.6L1113.9 299.7L1112.1 297.6L1109.3 296.9L1107.2 295.3L1106.3 293.6L1106.3 291.9L1106.6 289.9L1105.5 290.7L1105.2 291.5L1103.6 292.9L1101.3 295.2L1097.7 296.0L1094.2 296.3L1093.4 295.0L1094.2 292.8L1093.9 290.9L1093.1 290.4L1092.1 292.2L1092.2 294.1L1090.6 292.2L1090.3 289.7L1089.0 287.9L1087.0 285.6L1086.2 283.6L1085.4 282.1L1084.8 281.0L1085.4 280.4L1086.2 279.3L1087.5 278.2L1089.0 279.0L1090.6 279.2L1092.1 282.3L1093.6 285.5L1096.7 286.6L1099.3 288.8L1102.3 289.4L1106.2 287.5L1108.0 288.8L1109.3 291.7L1113.1 292.5L1117.2 292.8L1119.8 293.1L1121.6 293.2L1125.9 292.8L1129.8 292.6L1132.6 292.5L1132.3 293.1L1133.6 294.2L1134.6 296.2L1136.7 297.6L1137.7 298.7L1141.8 299.4L1139.2 301.2L1138.6 301.3L1140.3 303.1L1142.3 305.0L1143.8 305.6L1146.7 304.2L1147.2 301.5L1148.2 302.8L1148.4 304.5L1148.4 310.2L1149.7 315.6L1151.0 319.6L1153.6 326.5L1156.1 330.8L1157.3 334.2L1159.1 337.9L1160.6 339.0L1162.1 337.2L1164.3 335.9L1166.5 333.3L1166.5 331.5L1167.7 326.0L1167.1 322.3L1167.1 319.6L1169.4 318.8L1172.7 316.7L1175.3 313.7L1179.2 309.9L1181.9 308.0L1184.0 306.7L1184.8 304.8L1184.8 303.4L1187.6 303.0L1189.9 302.8L1193.3 302.0L1194.8 300.8L1197.2 301.2L1197.6 303.7L1198.4 305.5L1199.9 307.1L1202.0 309.4L1203.8 312.9L1203.5 318.3L1206.1 318.9L1208.4 317.5L1210.0 315.6L1212.0 316.9L1212.5 320.9L1213.5 323.4L1214.8 326.5L1217.1 326.5L1218.1 325.4L1219.4 324.9L1220.5 325.7L1220.4 327.1L1222.2 327.1L1224.0 328.3L1225.5 329.8L1226.0 331.5L1227.1 332.5L1229.5 333.0L1230.9 334.3L1230.4 337.7L1231.9 336.7L1234.2 335.4L1235.3 333.3L1236.3 333.1L1238.6 332.1L1241.2 330.4L1241.8 328.2L1242.3 326.5L1241.8 324.2L1240.9 320.1L1239.2 318.0L1237.6 316.7L1235.0 314.3L1234.5 312.9L1232.7 310.8L1233.2 308.2L1235.0 306.7L1235.5 305.3L1237.1 304.8L1238.6 303.4L1240.1 302.8L1241.4 303.5L1243.0 303.5L1243.0 305.0L1243.5 306.7L1245.0 306.1L1244.7 304.2L1246.3 303.5L1248.8 302.7L1251.4 302.0L1252.8 301.5L1254.5 301.2L1256.0 300.4L1259.1 299.5L1261.6 297.8L1269.3 287.9L1282.1 279.2L1282.1 156.0L1015.8 156.0L1015.8 188.2L1013.2 190.9L1012.2 192.9L1009.9 193.1L1008.1 191.3L1003.0 193.7L998.4 195.0L996.6 192.2L994.0 192.9L993.0 194.2L991.5 194.8L989.9 194.8L987.9 193.1L987.1 190.4L988.9 183.6L990.2 176.5L982.5 176.5ZM947.4 211.3L948.7 211.6L951.5 210.1L952.7 210.6L953.3 209.1L955.7 209.3L957.0 209.1L958.7 208.5L960.0 208.6L962.6 208.5L964.4 207.9L965.6 206.8L965.7 205.9L963.3 205.6L964.6 204.2L965.3 203.5L966.5 201.2L965.3 199.4L963.3 199.3L962.8 200.0L962.0 199.6L962.9 198.3L962.4 197.0L961.5 196.1L961.8 194.3L961.0 193.5L958.9 192.2L958.4 190.4L956.9 186.8L958.2 176.5L946.6 176.5L949.2 190.4L953.3 190.9L952.8 192.6L953.8 194.4L954.7 194.4L954.2 195.7L954.3 197.4L953.5 197.6L951.5 197.9L950.1 197.9L951.0 198.7L949.8 200.0L951.5 199.6L951.6 201.2L950.0 202.9L948.4 203.8L948.9 204.8L951.0 204.8L952.3 205.0L953.8 205.6L955.1 205.0L954.3 206.6L951.2 206.6L950.3 207.5L949.1 209.9ZM936.9 205.6L940.7 204.2L944.1 202.9L945.7 202.6L946.1 200.8L946.6 199.1L946.4 197.6L945.7 194.8L947.9 193.1L947.1 189.5L942.8 188.6L940.2 190.4L940.7 192.6L940.0 193.5L936.4 194.0L936.6 197.0L939.0 198.5L937.7 199.6L936.6 201.0L937.2 202.1L935.4 202.9L935.9 204.2ZM1254.4 417.0L1254.2 419.0L1253.2 421.8L1252.4 424.6L1252.9 425.7L1252.7 427.7L1251.8 429.2L1253.7 431.1L1254.3 433.7L1255.5 436.9L1256.5 440.4L1257.6 444.3L1258.4 446.4L1258.2 450.3L1256.5 451.3L1256.8 453.7L1264.2 455.6L1282.1 452.5L1282.1 406.7L1271.9 410.7L1266.8 412.1L1260.9 413.9L1256.5 416.2ZM1088.2 390.6L1089.8 394.4L1091.3 399.5L1089.5 400.0L1089.3 402.7L1088.5 407.1L1087.0 413.5L1084.7 419.8L1082.6 425.8L1078.3 427.7L1074.7 426.0L1073.8 421.3L1072.8 418.1L1075.5 412.9L1074.7 408.0L1074.7 404.0L1075.8 401.9L1078.0 401.2L1080.6 400.5L1083.1 398.7L1084.7 396.3L1085.7 394.4L1087.2 391.8ZM1241.2 355.8L1242.8 354.5L1244.5 355.4L1247.1 353.7L1247.3 352.6L1251.4 351.6L1254.0 348.5L1256.3 347.1L1259.1 342.1L1264.2 344.4L1264.2 370.1L1259.1 370.1L1255.5 370.3L1255.5 368.8L1254.0 368.5L1251.4 368.0L1248.3 368.8L1247.8 367.5L1244.5 367.2L1243.7 364.2L1241.4 362.4L1241.2 359.8L1240.9 357.8ZM1036.5 243.7L1034.2 242.6L1033.7 241.1L1032.7 239.3L1033.5 236.9L1035.2 235.6L1035.4 233.3L1037.9 230.5L1039.6 226.8L1040.8 225.0L1042.7 224.6L1044.0 225.7L1045.5 226.4L1048.1 226.4L1047.8 227.4L1045.2 229.2L1047.5 231.9L1049.1 232.6L1052.7 230.5L1055.4 230.1L1055.7 229.0L1052.9 229.4L1051.6 227.9L1051.4 226.8L1052.4 225.3L1054.2 224.4L1056.2 224.0L1058.0 222.9L1060.1 222.5L1062.7 222.3L1060.6 224.2L1059.3 226.4L1058.3 228.3L1056.4 229.0L1056.0 230.1L1057.5 231.5L1058.8 231.7L1061.9 233.7L1063.7 235.6L1067.0 237.6L1068.5 240.7L1068.4 242.4L1065.7 244.3L1063.7 244.5L1060.3 244.8L1056.8 244.0L1055.0 243.5L1052.2 241.1L1048.6 241.1L1045.0 241.9L1042.4 243.8L1039.6 243.8ZM1084.9 227.2L1088.8 225.0L1092.6 223.1L1094.9 223.1L1097.7 223.8L1098.3 225.7L1097.7 229.4L1093.4 229.4L1092.6 230.5L1090.8 231.9L1092.9 235.5L1095.9 238.3L1097.0 242.1L1097.5 244.1L1097.7 247.8L1099.0 250.2L1100.0 256.1L1100.0 258.0L1096.5 258.6L1092.6 258.6L1090.1 256.4L1087.2 253.1L1088.0 250.2L1088.8 246.8L1091.1 246.7L1089.0 246.0L1086.7 241.4L1083.7 237.6L1083.4 234.0L1081.6 231.9L1082.9 229.7ZM1030.4 246.5L1032.4 244.6L1033.7 244.3L1036.0 244.5L1038.6 245.3L1036.3 246.3L1033.7 246.5L1031.9 246.5ZM1206.1 345.6L1209.9 347.0L1213.0 349.5L1215.3 352.1L1217.9 354.7L1220.2 357.2L1222.2 359.8L1224.8 362.4L1226.8 364.9L1229.1 367.5L1230.7 370.1L1232.5 372.6L1233.2 374.7L1229.9 374.9L1228.1 373.1L1224.0 369.8L1220.7 366.2L1219.0 362.2L1217.3 359.3L1215.0 355.4L1212.2 353.1L1210.7 351.3L1208.1 349.2L1205.8 346.2ZM1232.2 376.7L1235.5 376.5L1239.9 377.5L1244.7 378.0L1250.6 378.5L1255.0 380.1L1255.2 381.9L1251.4 381.1L1246.3 381.0L1241.2 379.7L1237.8 379.6L1234.5 378.7L1232.2 377.4ZM786.3 519.0L787.3 521.7L788.9 524.8L792.2 527.0L795.0 527.6L791.7 529.4L786.6 530.5L782.7 530.1L778.9 527.8L780.2 525.2L782.2 523.0L781.7 520.5L784.3 518.8ZM1168.2 338.5L1170.0 338.2L1171.4 341.1L1170.9 343.6L1169.2 344.5L1168.0 343.1L1167.9 340.8ZM1220.9 345.2L1224.0 344.7L1226.3 347.5L1226.8 351.6L1226.6 354.7L1224.5 354.4L1222.2 351.6L1221.4 348.5ZM778.6 310.2L781.2 309.9L783.0 310.8L783.0 313.2L780.2 313.6L778.9 312.4ZM1242.7 307.8L1245.5 307.8L1245.0 310.8L1242.4 311.3ZM984.8 244.5L986.3 244.5L986.3 250.2L984.8 250.2Z" fill="#fff" fill-rule="evenodd"/>
<path d="M1214.8 326.5L1215.0 330.1L1214.3 335.4L1214.5 338.2L1217.1 341.8L1220.8 344.9L1221.4 349.5L1224.0 354.2L1228.1 357.5M1166.9 335.9L1166.6 339.2L1166.9 343.1L1168.2 344.5M983.8 238.3L983.5 242.8L983.3 251.2" fill="none" stroke="#bcc7d8" stroke-width="0.8"/>
<path d="M753.0 300.9L758.4 302.0L763.5 304.2L767.4 306.4L769.9 307.5" fill="none" stroke="#fff" stroke-width="1.3" opacity=".55" stroke-linecap="round"/>
<path d="M726.1 224.0L729.5 223.5L732.5 219.7L735.9 218.1L736.1 215.8L740.5 216.4L744.3 219.7L745.1 223.5L744.3 225.0L740.5 225.0L737.9 225.0L736.1 223.1L735.3 222.1L733.3 223.6L730.2 224.6ZM737.1 241.1L739.2 242.1L741.0 240.0L741.0 235.8L741.7 231.5L744.1 228.3L744.3 226.8L741.7 227.0L739.2 228.3L737.1 232.3L737.6 235.8L736.9 238.3ZM745.1 227.2L748.1 226.3L752.0 226.4L754.6 227.2L757.1 230.5L757.1 232.3L754.0 231.9L752.8 235.8L751.0 237.6L750.5 234.8L747.9 235.1L748.7 231.2L748.1 229.4L746.4 228.1ZM748.4 242.1L750.7 243.1L753.8 242.1L757.1 240.4L759.9 238.3L758.4 237.9L754.6 238.6L750.7 241.1L749.2 240.7ZM757.9 236.5L761.0 236.4L764.8 236.5L766.8 235.5L766.1 233.3L763.5 234.2L759.7 234.6ZM708.7 195.3L711.5 195.7L715.1 207.5L713.8 209.9L711.0 203.3L707.9 198.3ZM742.0 328.6L744.3 331.2L743.0 330.9L742.0 329.6ZM1043.2 362.1L1044.0 359.3L1047.3 358.8L1049.3 359.3L1049.3 361.8L1048.6 364.9L1046.5 366.2L1044.0 366.2L1043.2 364.4ZM1037.0 368.5L1038.1 371.3L1038.3 375.2L1040.4 378.5L1041.7 382.2L1040.4 381.7L1037.6 376.5L1036.5 371.3ZM1049.1 384.5L1050.6 388.1L1051.4 392.1L1052.2 396.5L1050.9 396.8L1049.8 392.1L1049.3 388.1ZM1053.9 348.3L1054.7 350.8L1055.7 353.1L1054.5 353.1L1053.7 350.6ZM996.8 324.9L999.1 324.6L999.9 326.2L997.9 327.3L996.6 326.2ZM1150.2 228.6L1154.1 224.2L1159.2 224.6L1164.3 224.2L1163.8 225.7L1159.2 226.1L1154.1 226.8L1151.5 229.7ZM1077.5 254.1L1078.5 253.5L1079.3 256.4L1078.0 257.0ZM1070.8 252.8L1073.2 251.5L1073.4 253.1L1071.6 253.5ZM1111.3 224.2L1114.4 223.8L1118.2 225.7L1119.5 230.5L1116.9 232.3L1113.9 233.0L1111.6 232.3L1111.3 228.6ZM1227.8 204.6L1229.9 205.8L1235.0 202.5L1239.6 198.7L1243.5 192.6L1244.2 186.8L1241.7 186.8L1239.9 191.8L1235.8 196.6L1231.2 200.8Z" fill="#e3e6ec" stroke="#cfd5df" stroke-width="0.4" stroke-linejoin="round"/>
<path d="M646.2 215.4L718.3 215.4L719.2 214.3L719.7 216.6L723.8 217.0L726.4 218.1L731.5 218.9L732.8 219.3M745.6 225.0L748.1 226.8L750.7 229.4L751.0 237.6L750.7 239.0L749.2 240.4L750.7 242.1L759.7 238.3L759.5 236.7L759.2 236.0L765.3 235.4L766.6 233.3L769.9 230.6L778.9 230.5L779.1 229.6L780.7 229.0L782.0 227.2L782.7 224.2L784.8 221.4L785.5 222.3L787.3 221.8L788.4 222.8L788.4 227.9L789.3 229.4L790.0 229.9L790.5 231.2M662.1 271.6L668.2 271.0L668.0 271.7L677.5 275.2L684.9 275.2L684.9 273.9L689.2 273.9L693.1 277.3L694.4 280.2L697.8 282.2L699.5 279.9L702.3 279.9L705.1 284.2L707.2 286.3L708.2 289.7L713.2 290.9M725.9 322.3L726.1 320.8L727.0 318.1L730.3 318.1L730.5 317.2L727.9 314.9L728.9 314.9L728.9 313.4L733.7 313.4L733.7 313.1L735.9 311.6M733.7 313.4L733.5 318.5L734.3 318.5M736.1 319.1L733.5 322.5L733.2 322.5L731.2 324.2M733.2 322.5L735.3 323.7L737.1 323.8L737.1 325.2M738.4 326.2L740.0 324.2L742.3 324.0L744.6 321.5L749.0 320.9M742.5 331.3L745.1 331.3L747.8 331.7M749.6 338.6L749.8 336.7L750.6 335.2M762.5 341.3L764.3 339.5L763.9 337.6M779.3 329.4L776.3 331.2L775.0 334.6L776.6 338.2L777.6 341.8L782.5 341.8L784.1 344.1L789.1 343.9L788.4 348.3L789.6 351.1L788.2 352.6L789.9 353.9L790.8 356.7M790.8 356.7L790.2 355.4L783.2 355.4L783.1 357.0L785.0 358.1L782.6 358.4L782.6 360.3L784.3 362.6L782.9 370.6M782.9 370.6L780.9 369.5L782.6 366.7L775.3 365.9L771.5 361.1L769.3 360.1L766.6 358.8L763.8 358.8L762.7 357.8L760.2 356.1M769.3 360.1L768.4 363.6L765.8 366.5L762.7 367.5L761.2 368.5L760.4 371.6L758.1 371.2L756.0 371.1L756.7 369.8L756.3 368.5M782.9 370.6L775.4 373.0L772.6 378.7L775.2 383.2L777.1 385.5L781.2 384.1L781.2 388.1L783.7 388.0M783.7 388.0L786.2 392.1L785.3 396.8L784.3 400.3L785.3 402.1L784.0 404.8L784.0 405.3L781.7 407.6M783.7 388.0L787.1 388.1L794.8 384.8L794.6 388.1L797.1 391.9L801.2 393.4L805.8 394.7L807.8 398.7L807.8 402.0L812.6 402.1L812.4 404.7L814.7 407.2L814.0 409.5L813.1 412.5M813.1 412.5L810.6 410.3L803.9 411.1L801.5 418.3L797.3 419.9L795.0 417.9L792.2 417.0L789.9 419.8L787.3 416.2L786.6 412.1L785.5 409.4L784.0 405.3M813.1 412.5L813.8 417.9L819.1 418.4L820.1 423.2L822.9 423.3L822.2 427.7M801.5 418.3L805.8 422.6L811.4 425.4L814.5 427.7L811.9 432.5L817.6 433.1L818.8 432.7L822.2 427.7M822.2 427.7L824.2 430.8L824.2 432.1L819.1 435.7L814.5 441.0M814.5 441.0L818.6 442.8L821.1 444.3L824.5 447.9L825.2 451.7M814.5 441.0L812.9 446.4L812.4 452.2M789.9 419.8L790.4 423.2L786.8 424.6L786.8 431.7L783.7 436.0L782.7 441.3L781.4 444.9L782.7 450.3L783.2 453.4L781.4 456.5L779.9 461.0L780.4 467.5L778.4 470.4L778.1 475.1L778.1 479.2L777.3 483.1L778.4 487.3L778.9 491.0L777.6 497.3L776.3 502.6L773.8 506.5L775.0 511.3L776.8 510.9L776.8 515.0L777.9 516.3L784.0 516.9L786.7 517.7M786.3 519.0L786.3 528.7M790.8 356.7L794.2 358.0L798.1 356.0L798.1 354.7L799.6 354.2L797.6 350.8L796.3 349.3L801.2 350.3L801.4 349.4L805.9 348.1L806.5 346.5L804.7 344.5L805.5 342.6L807.6 341.6L806.8 340.3L808.6 338.5M806.5 346.5L808.3 347.0L809.4 349.8L808.6 353.7L810.9 356.5L813.5 356.0L817.3 354.9L818.8 354.7L822.2 353.9L826.5 354.2L829.7 349.3M817.3 354.9L815.2 351.1L815.5 346.5L815.5 344.4M822.2 353.9L823.7 350.6L822.5 347.0L823.7 344.9M956.4 263.7L957.6 265.6L957.6 269.3L958.9 272.9L954.6 272.9L952.8 276.2L949.2 279.2L939.8 283.0L939.8 287.1L949.6 293.6M939.8 286.0L928.2 286.0M939.8 290.8L931.3 290.8L931.3 298.0L928.7 299.2L928.4 303.9L918.6 303.9M949.6 293.6L945.4 293.6L947.7 319.6L938.2 319.6L934.1 320.7L932.5 319.3L930.8 321.6L927.7 318.1L925.4 316.7L919.7 318.0M949.6 293.6L964.9 304.5L965.1 305.6L970.2 308.0L970.5 310.2L972.9 309.8L976.9 309.0L992.7 297.8L987.6 295.0L987.6 289.4L987.1 284.2L987.4 279.2L986.3 278.4L985.2 272.9L983.3 271.7L981.2 267.7L983.0 265.2L983.3 262.1L984.0 258.0M986.3 278.4L988.4 276.5L988.4 274.1L991.5 271.7L991.6 269.7M992.7 297.8L998.4 300.4L1000.4 299.2L1023.5 308.9L1023.5 307.5L1026.0 307.5L1026.0 302.0L1026.0 281.5L1025.3 278.9L1026.4 274.6M1026.0 302.0L1056.5 302.0M1000.4 299.2L1001.7 304.8L1002.0 307.5L1001.7 315.9L996.6 322.3L996.8 324.4L994.0 326.1L989.4 325.3L986.6 326.7L982.0 325.3L979.7 326.2L976.1 323.8L972.5 324.9L971.2 329.6L969.3 327.8L968.1 329.1L967.4 327.0L964.6 326.1L962.6 321.2L965.3 320.1L971.0 319.9L972.8 316.7L972.9 309.8M962.6 321.2L960.2 320.8L956.9 323.1L954.6 323.6L951.0 325.7L950.7 327.0L948.4 329.4L947.9 332.9L946.1 332.5L944.1 333.7L941.5 333.5L940.7 331.5L939.5 329.9L937.9 328.3L934.6 329.1L932.8 327.8L932.8 326.2L931.1 323.8L930.8 321.6M932.8 327.8L926.9 327.1L923.1 327.0L919.2 327.9M919.0 324.6L922.6 324.1L926.1 324.6L926.7 325.3L923.3 325.4L921.5 325.8L919.0 326.0M926.9 327.1L926.9 329.6L924.4 330.1L923.6 331.6M927.9 336.5L930.0 334.4L933.3 334.1L934.9 336.4L934.9 338.5L935.6 337.9L934.9 339.8L932.5 342.1M935.6 337.9L937.7 338.3L938.1 340.3L940.2 340.4L940.7 343.4L943.0 344.8L942.7 348.6M941.5 333.5L942.4 338.2L940.7 340.3L940.2 340.4M947.9 332.9L950.0 334.8L953.8 334.3L955.0 335.5L955.6 338.7L953.8 342.3L954.8 346.7M955.0 335.5L954.6 331.6L960.2 331.6L961.7 331.2L964.3 331.5L965.6 330.3L968.1 329.1M961.7 331.2L963.0 333.3L963.3 337.2L963.7 340.8L965.1 344.1M964.3 331.5L964.0 333.0L966.1 336.7L966.2 343.8M971.2 329.6L971.7 332.5L969.2 336.5L968.9 343.5M996.8 324.4L998.1 326.0L999.4 328.3L997.3 331.5L995.0 335.5L993.2 338.2L992.2 341.7L989.1 341.7L987.1 342.3L984.7 344.8L983.8 347.6M998.1 326.0L1000.2 328.3L1000.7 329.9L1000.5 332.0L1001.7 334.2L998.4 334.1L997.7 335.0L1000.9 337.9L1001.7 340.5L1004.5 339.9L1009.6 339.1L1010.9 336.7L1014.2 336.3L1017.6 332.5L1020.6 331.6L1019.6 327.3L1018.3 326.2L1019.6 323.3L1020.9 319.1L1023.5 319.1L1023.5 308.9M1001.7 340.5L999.1 343.9L999.4 347.0L1002.7 351.9L1003.5 354.2L1003.2 355.4L999.1 354.2L996.1 354.2L991.1 354.2L987.1 353.9M991.1 354.2L991.1 357.2L987.1 357.2M996.1 354.2L995.8 356.6L998.4 356.3L999.1 361.3L997.6 365.9L994.0 365.4L991.7 365.9L992.5 368.8L990.6 369.9M1003.5 354.2L1004.3 352.6L1009.6 350.8L1008.4 353.9L1007.6 359.0L1007.3 361.3L1003.5 365.4L1003.5 368.3L1002.7 369.8L998.9 372.4L995.6 371.6L994.8 371.1L992.7 372.6L994.0 374.4L993.2 374.6M993.6 375.2L995.8 374.8L1004.5 374.8L1005.5 378.5L1008.1 380.6L1011.7 380.4L1012.1 377.8L1014.8 377.8L1014.6 378.5L1017.8 378.5L1018.0 384.8L1019.1 388.7L1023.3 387.9L1023.5 393.4L1018.3 393.4L1018.3 401.9L1021.9 405.6M992.1 404.7L997.6 405.1L1009.1 405.1L1016.8 406.7L1021.9 405.6L1026.7 406.1M1015.8 407.5L1015.8 417.6L1013.2 417.6L1013.2 425.3L1013.2 435.7L1010.7 437.3L1007.1 436.6L1004.1 436.3M1013.2 425.3L1015.3 431.2L1018.3 430.7L1020.9 426.8L1027.3 427.9L1031.0 422.5L1037.2 418.1L1042.2 418.7M1026.7 406.1L1029.1 411.0L1032.9 413.5L1037.2 418.1M1042.2 418.7L1045.2 415.7L1046.5 411.6L1045.7 409.1L1046.5 404.8L1046.3 403.2L1042.2 401.3L1039.9 401.3L1039.9 400.3L1039.3 398.7L1047.0 396.0M1026.7 406.1L1031.1 406.5L1036.0 401.2L1039.9 400.3M1047.0 396.0L1046.3 394.7L1046.5 392.3L1047.3 387.6L1046.3 384.0L1041.7 381.9L1040.8 380.9M1023.3 387.9L1024.5 389.2L1026.8 388.7L1028.6 390.5L1031.7 389.7L1032.7 391.5L1035.0 392.3L1036.3 394.4L1038.3 394.6L1038.3 391.2L1036.4 391.8L1034.7 390.2L1035.4 384.8L1034.7 383.7L1036.3 381.4L1040.8 380.9M1047.0 396.0L1050.1 397.1L1050.5 399.5L1049.8 400.7L1052.4 402.7L1052.0 404.3L1053.7 401.3L1053.9 398.4L1051.4 394.7L1051.5 389.6L1055.5 390.0L1059.1 388.9L1060.6 389.2L1065.6 386.7M1046.3 384.0L1049.1 384.2M1042.2 418.7L1043.7 424.0L1044.0 427.7L1043.8 428.7L1044.2 431.1L1046.3 431.2M1043.8 428.7L1042.2 428.1L1040.9 431.1L1042.2 432.5L1044.0 432.5L1044.2 431.1M1031.1 439.2L1033.7 436.9L1036.0 436.7L1037.3 438.6L1036.5 440.4L1034.2 442.2L1032.2 441.3L1031.1 439.2M1020.6 331.6L1022.4 334.3L1022.1 336.8L1024.0 337.4L1026.5 340.3L1029.6 342.9L1032.2 346.7M1024.0 337.4L1026.0 333.3L1029.9 335.4L1033.7 335.9L1036.3 334.8L1038.8 333.3L1041.4 334.6L1045.0 329.6L1046.8 328.3L1047.0 332.2L1048.8 335.4L1049.8 332.5L1051.4 331.7L1051.9 329.1L1054.5 327.0L1055.5 322.8L1055.2 320.7L1056.8 315.5L1060.9 312.9M1055.5 322.8L1059.1 321.2L1061.9 322.0L1066.7 323.3L1070.6 327.7L1072.4 327.0M1070.6 327.7L1068.9 330.1L1069.1 331.5L1071.9 331.5L1072.8 330.3M1071.9 331.5L1072.1 335.1L1074.7 336.8L1082.2 339.2L1084.9 339.2L1077.2 347.0L1072.6 347.9L1069.6 349.5L1069.3 349.7L1066.5 349.0L1063.2 351.0L1059.6 350.6L1056.5 348.5L1054.2 348.4L1053.9 348.0M1069.3 349.7L1067.0 352.6L1067.0 362.0L1068.4 364.0M1048.8 335.4L1049.3 337.7L1046.5 339.5L1050.9 342.6L1052.4 345.9L1053.9 348.0L1049.1 349.0L1046.5 349.9L1044.5 350.7L1041.9 350.1L1041.0 350.8L1037.6 348.5L1033.7 348.8L1032.2 346.7L1027.3 346.5L1024.5 346.7L1020.6 347.7L1019.4 349.3L1014.8 348.5L1011.9 346.7L1009.6 348.8L1009.6 350.8M1049.1 349.0L1050.1 350.8L1051.6 354.9L1050.4 357.0L1048.8 359.5L1048.8 362.4L1058.3 367.6L1058.8 369.3L1062.4 371.9M1041.0 350.8L1040.9 353.7L1042.2 354.3L1040.1 356.7L1038.7 357.8L1037.8 362.1L1037.8 363.4L1036.8 364.2L1036.3 366.7L1036.9 368.3L1037.0 371.1M1048.8 362.4L1040.1 362.5L1037.8 363.4M1040.1 362.5L1041.0 365.7L1040.1 365.9L1040.9 368.3L1038.8 371.0L1037.3 371.2M1036.3 366.7L1038.6 365.8L1040.1 365.9M939.3 241.4L941.0 240.7L941.3 241.7L945.1 241.2L946.1 242.4L944.3 244.5L944.3 247.2L944.1 248.8L942.8 249.0L944.1 251.2L943.3 253.1L944.1 253.8L942.8 255.9L943.0 257.0M957.4 236.4L958.4 237.4L960.2 237.9L963.8 238.3L965.7 239.0L966.5 239.3L970.1 239.6M981.2 234.8L981.7 233.5L979.7 232.6L979.9 230.5L979.0 230.1L980.1 227.2L979.4 225.3L977.6 226.1L977.6 224.6L979.9 221.2L981.5 220.8L981.3 218.1L983.0 215.5L979.2 214.6L978.3 213.6L976.9 213.3L974.4 210.9L972.6 211.6L972.8 210.3L970.1 208.3L968.5 207.0M980.1 227.2L982.2 227.0L983.6 225.3L985.0 227.4L985.8 225.1L987.9 224.6L988.8 223.5L986.6 222.9L986.5 221.0L984.0 220.1L981.5 220.8M970.7 206.0L973.0 206.0L974.8 205.6L977.0 206.8L976.6 208.3L977.4 208.5L978.4 210.1L977.6 211.1L978.6 212.3L978.3 213.6M977.4 208.5L977.4 204.0L979.4 203.5L980.1 201.7L980.4 198.1M984.0 190.9L987.4 191.3M998.4 195.0L998.9 197.9L998.2 199.8L999.5 201.0L999.8 205.0L1000.4 207.5L999.9 208.1L998.6 207.5L994.0 209.9L993.0 210.3L994.1 211.9L997.3 216.2L995.3 218.1L994.7 220.4L995.3 221.2L993.2 220.4L990.2 221.6L988.8 221.0L986.5 221.0M988.8 223.5L990.2 223.9L993.1 222.9L993.8 224.2L997.1 224.9L999.3 225.3L1002.1 224.2L1003.2 223.6L1004.3 223.1L1004.1 221.6L1005.8 220.4L1005.9 219.3L1005.4 217.0L1000.4 215.4L999.6 217.0L997.3 216.2M999.9 208.1L1003.5 208.9L1005.3 209.7L1007.3 210.3L1010.3 213.5L1008.4 215.2L1006.1 216.0L1005.4 217.0M1010.3 213.5L1012.7 214.6L1015.5 214.3L1019.8 215.0L1020.1 213.1L1023.7 209.1L1022.4 205.4L1022.6 202.9L1021.4 202.1L1023.2 199.6L1022.2 195.0L1020.4 193.3L1012.7 192.9M1022.2 195.0L1027.3 193.5M1022.4 205.4L1026.8 203.5L1033.2 205.0L1036.8 205.0L1040.2 206.2L1041.3 203.1L1043.4 202.9L1042.2 198.7L1045.7 197.2L1043.4 194.8L1040.9 191.3M1043.4 202.9L1048.6 201.9L1053.2 207.5L1054.2 209.9L1059.3 211.9L1064.7 213.1L1063.9 216.2L1063.9 219.7L1060.1 221.0L1059.8 222.7M1019.8 215.0L1018.7 217.8L1020.6 219.3L1025.8 220.4L1030.1 218.3L1033.1 217.6L1036.7 219.5L1038.7 225.0L1036.1 226.8L1034.2 228.8L1037.9 229.7M1030.1 218.3L1031.7 220.1L1034.0 223.5L1034.2 228.8M1005.9 219.3L1010.1 220.1L1013.2 218.5L1017.6 217.9L1018.7 217.8M1020.6 219.3L1016.3 225.3L1013.9 226.4L1010.3 227.2L1006.3 227.0L1004.3 225.0L1003.2 223.6M996.8 228.7L999.4 228.3L1001.2 228.8L1002.1 226.1L1004.3 225.0M997.1 224.9L996.8 227.2L997.3 228.3M1002.3 231.2L1003.0 229.7L1007.8 230.1L1010.7 230.8L1011.7 233.3L1011.7 235.8L1009.4 239.0L1007.1 237.6L1003.5 233.3L1002.3 231.2M1010.3 227.2L1010.8 229.7L1010.7 230.8M1013.9 226.4L1016.8 230.8L1019.6 231.9L1020.1 233.3L1019.4 235.8L1020.9 237.1L1019.4 239.7L1017.1 240.0L1014.8 241.6L1014.5 243.5L1015.0 244.8L1015.8 245.0L1020.8 243.3L1024.7 242.8L1028.8 243.3L1029.5 242.1L1032.4 240.9L1033.7 241.1M1020.1 233.3L1020.9 234.8L1027.3 235.3L1031.1 233.7L1035.1 234.9M1029.5 242.1L1030.1 243.3L1028.7 245.3M1013.2 248.8L1015.0 246.8L1015.8 245.0M1020.8 243.3L1019.4 239.7M1011.7 241.6L1012.5 239.0L1013.5 239.0L1014.8 241.6M1009.4 239.0L1011.2 235.8L1014.1 238.1L1013.5 239.0M1014.1 238.1L1016.8 237.9L1017.1 240.0M1054.1 261.1L1056.0 260.1L1055.9 258.1L1059.3 258.1L1061.9 258.6L1066.5 257.3L1070.5 257.3L1076.7 257.2L1075.2 253.1L1074.8 249.8L1076.7 248.8L1073.8 247.3L1073.7 244.1L1070.8 242.9L1068.4 242.7M1064.4 236.2L1070.8 236.9L1074.4 239.0L1078.8 239.3L1081.0 241.4L1081.1 244.1L1077.2 243.5L1073.7 244.1M1077.2 243.5L1078.8 245.2L1079.6 247.2L1081.1 249.3L1081.1 251.5M1081.0 241.4L1083.1 243.5L1086.5 241.6M1076.7 248.8L1081.1 251.5L1084.9 248.8L1085.8 249.8L1084.9 251.8L1087.2 253.0M1070.5 257.3L1067.8 259.6L1067.0 265.9L1061.4 269.0L1056.2 272.3L1053.6 271.1M1054.1 265.1L1055.7 266.5L1053.8 269.0L1053.2 269.4L1051.9 269.9M1053.2 271.1L1053.0 274.7L1051.6 280.5M1049.7 275.6L1051.4 280.7M1051.6 281.1L1054.3 281.5L1058.0 279.2L1059.3 277.7L1056.8 274.7L1061.9 273.2L1062.4 272.8L1061.4 269.0M1062.4 272.8L1065.5 273.4L1069.8 275.9L1076.5 281.5L1081.2 281.8L1083.5 279.2L1084.9 279.2M1081.2 281.8L1084.2 283.4L1086.1 283.4M1076.7 257.2L1078.3 260.9L1080.2 263.7L1078.3 267.1L1079.8 270.2L1084.5 273.8L1084.2 276.2L1084.9 277.7L1086.3 279.3M1071.6 317.2L1072.9 314.3L1075.2 314.5L1081.6 314.9L1083.7 315.3L1085.4 312.4L1087.8 311.3L1095.2 310.2L1102.9 307.5L1104.5 302.0L1103.4 300.1L1096.6 299.4L1094.2 295.9M1104.5 302.0L1105.4 296.2L1104.9 293.9L1106.3 293.8M1095.2 310.2L1098.0 316.5M1092.1 294.3L1093.1 294.8M1100.0 256.5L1102.3 256.4L1105.4 254.1L1108.5 253.6L1113.9 256.1L1116.7 258.8L1118.6 258.8L1118.7 262.1L1117.1 267.1L1117.1 269.9L1117.8 274.7L1120.3 275.0L1120.3 276.7L1117.8 279.6L1122.8 284.3L1122.8 287.2L1124.1 287.5L1123.9 289.1L1120.4 290.2L1119.8 293.1M1117.8 279.6L1122.1 281.0L1131.7 279.6L1132.1 276.5L1135.6 275.2L1139.5 273.5L1140.0 270.2L1142.0 269.3L1141.0 267.1L1144.1 266.9L1145.5 259.4L1153.8 256.9M1118.7 262.1L1121.6 263.2L1123.6 261.3L1127.2 259.9L1130.0 256.7L1132.3 256.5L1135.6 257.0L1139.5 257.3L1141.8 255.7L1143.6 253.1L1144.7 253.6L1145.1 258.6L1147.7 257.7L1151.0 256.4L1153.8 256.9M1132.3 256.5L1132.4 254.4L1130.0 253.5L1126.4 251.3L1121.8 247.8L1120.5 244.1L1115.9 243.1L1115.7 240.4L1112.1 238.3L1108.0 243.5L1105.4 243.5L1105.4 230.5L1112.0 228.5L1118.2 232.6L1120.8 235.8L1128.2 235.1L1131.3 237.6L1131.0 239.7L1132.3 241.1L1132.8 244.0L1136.0 244.0L1136.4 245.2L1138.8 243.1L1141.8 240.9L1143.7 240.2L1144.4 238.3L1150.2 239.7L1150.4 237.6L1152.0 236.9L1156.0 238.3L1164.8 238.3L1167.5 239.8M1105.4 243.5L1103.9 243.5L1102.3 241.1L1097.7 240.7L1096.3 241.9M1167.5 239.8L1162.8 243.1L1158.9 244.5L1153.7 246.2L1150.6 249.7L1151.0 252.5L1153.6 253.1L1153.8 256.9L1156.1 258.6L1161.3 262.4M1150.6 249.7L1145.9 250.2L1142.6 249.2L1139.5 247.2L1143.1 247.2L1143.8 243.8L1146.4 243.8L1149.2 245.2L1146.4 246.2L1143.1 247.2M1135.6 257.0L1137.2 253.8L1135.4 249.2L1137.7 249.3L1139.5 247.2M1143.7 240.2L1143.8 243.8M1088.0 225.5L1086.2 224.8L1083.4 220.1L1081.1 217.8L1082.6 214.6L1081.9 214.1L1083.7 209.9L1086.7 211.9L1087.0 209.1L1092.1 204.6L1096.5 205.4L1101.6 207.5L1104.7 209.3L1109.3 207.5L1112.1 207.5L1115.4 208.3L1119.3 208.3L1119.8 206.2L1115.7 203.8L1118.5 199.6L1118.2 195.3L1123.3 194.0L1128.5 193.1L1136.7 190.4L1143.3 189.1L1143.8 194.0L1149.7 195.0L1152.5 197.0L1157.9 194.0L1161.5 197.9L1166.9 208.1L1168.7 206.2L1175.6 207.5L1181.0 213.1L1185.6 214.6M1185.6 214.6L1181.5 218.1L1181.0 222.9L1174.6 222.3L1172.8 228.5L1166.6 230.8L1168.9 237.1L1167.5 239.8M1185.6 214.6L1191.5 211.9L1197.6 208.7L1203.5 209.3L1211.2 212.5L1213.8 209.5L1213.0 205.6L1217.9 204.4L1223.7 206.2L1224.0 209.1L1227.6 210.9L1235.3 210.3L1240.1 214.1L1245.8 214.8L1251.7 213.1L1256.3 210.7L1260.9 212.3M1186.9 214.8L1187.6 217.2L1192.5 219.7L1194.8 223.5L1195.1 229.7L1201.5 230.6L1206.3 233.0L1208.9 238.5L1218.1 238.8L1222.7 239.3L1230.7 242.3L1237.3 239.5L1243.7 238.8L1248.7 235.1L1247.3 232.6L1252.9 231.4L1259.1 227.9L1264.2 224.2M1136.7 297.6L1138.2 295.6L1143.8 295.3L1143.1 291.7L1141.5 289.4L1140.0 287.9L1142.3 285.0L1146.1 285.2L1149.0 281.5L1151.3 279.2L1153.1 275.9L1152.8 273.2L1154.9 272.2L1151.5 269.6L1151.4 264.9L1158.7 262.0L1161.3 262.4L1164.1 266.0L1163.6 271.4L1163.7 275.3L1164.8 276.2L1169.4 278.6L1172.3 278.3L1177.1 282.4L1182.3 285.2L1187.8 285.5M1169.4 278.6L1167.1 282.7L1171.8 285.3L1175.3 286.8L1181.7 289.1L1187.6 289.7L1187.8 285.5L1189.7 287.1L1192.0 284.5L1196.6 285.3L1200.2 282.7L1205.3 281.3L1208.4 281.0L1211.3 284.5M1189.7 287.1L1189.9 288.5L1193.3 288.7L1197.9 288.4L1196.6 285.3M1211.3 284.5L1208.4 287.2L1205.6 289.1L1204.3 293.1L1203.1 296.9L1201.0 296.3L1201.2 299.2L1199.2 302.3L1198.4 304.6M1187.6 289.7L1189.4 292.8L1187.6 294.8L1189.3 295.9L1189.6 299.5L1190.1 302.0M1188.4 289.4L1192.0 290.8L1192.1 292.8L1198.6 293.6L1197.6 295.3L1195.6 296.4L1195.8 299.0L1197.1 299.0L1199.2 302.3M1211.3 284.5L1214.8 286.5L1214.8 291.2L1211.8 294.3L1211.8 296.7L1215.3 298.7L1216.1 301.6L1218.6 303.5L1221.1 303.3L1218.4 306.5L1216.8 306.5L1213.0 308.3L1212.2 311.6L1211.3 311.4L1214.8 317.5L1213.5 320.4L1215.8 323.8L1215.8 325.7L1216.1 327.3L1217.2 329.4L1214.9 333.1L1214.5 334.1M1218.4 306.5L1219.5 308.9L1221.4 308.9L1221.2 314.3L1223.5 312.4L1225.0 313.3L1228.2 312.1L1230.3 314.4L1230.4 317.1L1232.5 319.1L1232.5 322.4L1231.4 322.8L1225.8 323.1L1224.1 324.8L1225.5 329.8M1221.1 303.3L1222.7 304.2L1223.6 300.9L1225.5 302.8L1228.4 305.0L1229.9 305.9L1228.4 308.3L1231.4 311.3L1235.0 316.7L1237.2 319.6L1237.4 321.7L1237.2 328.1L1233.1 329.9L1234.0 331.5L1231.2 331.6L1229.5 333.0M1231.4 322.8L1233.5 323.7L1237.4 321.7M1223.6 300.9L1228.2 300.6L1231.8 298.4L1235.3 299.7L1235.3 302.0L1238.6 303.4M1218.4 343.4L1220.9 345.3L1223.5 343.9M1242.8 354.7L1242.7 355.2L1245.0 357.6L1248.3 357.2L1249.4 356.1L1253.2 356.6L1255.5 356.1L1256.5 353.7L1258.1 351.1L1258.1 349.0L1261.6 348.8" fill="none" stroke="#b4b4b4" stroke-width="0.7" stroke-linejoin="round"/>
<path d="M695.5 215.4L695.5 244.5M695.5 227.0L714.7 227.0M695.5 237.6L709.7 237.6L714.9 239.3M700.6 247.8L717.9 247.8M700.6 257.7L719.7 257.7M698.2 259.3L705.9 259.3L705.9 265.4L720.0 268.2M682.7 244.5L700.6 244.5L700.6 257.7L682.7 257.7L682.7 244.5M677.6 230.5L695.5 230.5M677.6 230.5L677.6 244.5L682.7 244.5M669.9 241.1L677.6 241.1M669.9 241.1L669.9 257.7L682.7 257.7L682.7 275.2M698.1 257.7L698.1 273.2L689.0 273.2M714.9 235.8L728.4 235.8M716.6 245.8L727.9 245.8M719.7 259.3L731.5 259.3L732.3 260.9M721.1 270.2L728.4 270.2M719.7 247.8L719.7 259.3L720.1 268.3L721.1 270.2L721.1 276.2L722.3 279.2M714.7 227.0L714.9 235.8L714.9 239.3L716.6 245.8L717.9 247.8L719.7 250.8M713.1 215.4L714.7 227.0M726.1 224.0L724.3 228.6L728.4 235.8L731.0 241.7L728.7 245.5L727.9 246.5L731.0 251.8L732.8 256.7L733.8 257.7L732.3 260.9L731.2 264.0L728.7 268.6L728.4 270.2L728.9 273.2L727.4 276.2L732.3 276.2L732.0 277.7M733.8 257.7L736.6 255.1L741.7 254.4L744.8 250.8L750.5 253.1L755.8 245.8M732.8 259.3L752.8 258.9L767.6 259.1M730.7 264.0L749.2 264.0M736.1 264.0L735.5 273.5L735.6 278.0M742.8 264.0L744.3 272.3L744.3 276.2M737.6 276.2L744.3 276.2L752.0 277.4L753.3 277.1M737.9 242.1L737.9 250.2L736.6 255.1M744.8 242.1L744.8 250.8M739.2 241.9L748.1 242.1M755.8 241.1L755.8 248.8L767.9 248.8M757.7 241.1L769.0 241.1M730.5 224.8L736.4 227.2L737.6 230.1M730.0 239.3L737.1 239.3M749.2 264.0L754.6 263.7L757.9 264.6L760.8 267.6M748.5 264.0L754.3 272.9M752.8 258.9L756.3 256.1L763.0 250.2L758.4 248.8M773.8 230.5L774.3 238.5L773.8 243.5M774.3 238.5L780.2 238.1M776.3 230.5L776.3 238.5M778.1 241.1L773.8 240.9M780.2 229.4L780.8 237.2M680.3 215.4L680.3 166.5M702.0 215.4L701.5 194.8L700.8 166.5M718.3 215.4L718.3 200.0L734.1 181.7M758.4 205.4L758.4 221.2L764.8 227.2L771.2 229.7M785.3 219.7L790.7 219.3M798.1 226.8L797.3 227.4M815.8 205.8L815.8 203.3L798.1 203.3L790.4 194.8L789.1 190.4M662.1 271.6L668.2 271.0M811.2 356.7L817.6 364.9L812.9 378.5M812.9 378.5L817.3 384.0L833.4 385.0M812.9 378.5L804.2 382.4L790.9 385.0L773.2 378.5M804.2 382.4L808.3 388.4L808.1 395.0M833.4 385.0L838.0 373.4L843.9 362.6M833.4 385.0L832.2 392.9L828.1 401.3L826.0 406.4M813.5 405.3L826.0 406.4L831.4 412.9L826.3 419.0L822.9 423.2M831.6 410.7L840.9 408.0L844.2 399.2L848.8 396.8L859.6 400.5L860.8 406.7M844.2 386.8L843.7 393.4L844.4 399.2M838.0 373.4L840.6 379.1L844.2 386.8L850.6 384.0L858.3 384.0L864.2 382.9L866.5 389.2M844.4 386.3L849.3 377.8L852.1 372.6L854.9 367.2M856.2 367.2L857.3 372.6L858.5 378.8L858.3 384.0M858.5 378.8L866.7 378.5L872.6 379.1M866.7 372.1L863.4 376.5L866.7 378.5M831.4 412.1L840.9 412.9L843.2 419.5L847.8 420.1M847.8 418.1L854.4 415.7L857.0 414.8M854.9 414.3L857.3 406.7L859.8 406.4M826.3 419.2L834.7 420.6L838.8 426.5M824.2 429.4L833.9 429.7L837.5 428.8M824.2 432.1L830.1 433.1L834.7 438.3M822.4 353.9L827.5 361.1L830.4 362.9M798.1 356.0L804.5 363.4L810.9 359.0L811.2 356.7M840.9 408.0L840.9 401.3L838.3 400.0L840.9 400.0" fill="none" stroke="#dcdcdc" stroke-width="0.6" stroke-linejoin="round"/>
<rect x="731.0" y="194.0" width="1" height="332.6" fill="#fff" opacity=".55"/>
<rect x="961.5" y="194.0" width="1" height="332.6" fill="#fff" opacity=".55"/>
<rect x="1191.8" y="194.0" width="1" height="332.6" fill="#fff" opacity=".55"/>
<text x="660.9" y="205" textLength="44.3" lengthAdjust="spacingAndGlyphs" font-family="Liberation Sans, sans-serif" font-weight="bold" font-size="12.3" fill="#4a4a4a" stroke="#fff" stroke-width="2" stroke-linejoin="round" paint-order="stroke">NORTH</text>
<text x="655.6" y="221" textLength="55.6" lengthAdjust="spacingAndGlyphs" font-family="Liberation Sans, sans-serif" font-weight="bold" font-size="12.3" fill="#4a4a4a" stroke="#fff" stroke-width="2" stroke-linejoin="round" paint-order="stroke">AMERICA</text>
<text x="964.1" y="213" textLength="48.3" lengthAdjust="spacingAndGlyphs" font-family="Liberation Sans, sans-serif" font-weight="bold" font-size="12.3" fill="#4a4a4a" stroke="#fff" stroke-width="2" stroke-linejoin="round" paint-order="stroke">EUROPE</text>
<text x="986.0" y="336" textLength="44.1" lengthAdjust="spacingAndGlyphs" font-family="Liberation Sans, sans-serif" font-weight="bold" font-size="12.3" fill="#4a4a4a" stroke="#fff" stroke-width="2" stroke-linejoin="round" paint-order="stroke">AFRICA</text>
<text x="1176.4" y="212" textLength="28.4" lengthAdjust="spacingAndGlyphs" font-family="Liberation Sans, sans-serif" font-weight="bold" font-size="12.3" fill="#4a4a4a" stroke="#fff" stroke-width="2" stroke-linejoin="round" paint-order="stroke">ASIA</text>
<text x="785.1" y="413" textLength="41.9" lengthAdjust="spacingAndGlyphs" font-family="Liberation Sans, sans-serif" font-weight="bold" font-size="12.3" fill="#4a4a4a" stroke="#fff" stroke-width="2" stroke-linejoin="round" paint-order="stroke">SOUTH</text>
<text x="778.4" y="428" textLength="55.6" lengthAdjust="spacingAndGlyphs" font-family="Liberation Sans, sans-serif" font-weight="bold" font-size="12.3" fill="#4a4a4a" stroke="#fff" stroke-width="2" stroke-linejoin="round" paint-order="stroke">AMERICA</text>
<circle cx="758.9" cy="226.3" r="1.4" fill="#c49a2e" opacity=".9"/>
<circle cx="762.2" cy="292.2" r="1.4" fill="#c49a2e" opacity=".9"/>
<circle cx="711" cy="290.1" r="1.4" fill="#c49a2e" opacity=".9"/>
<circle cx="796.5" cy="273.2" r="1.4" fill="#c49a2e" opacity=".9"/>
<circle cx="1084.7" cy="282.1" r="1.7" fill="#c49a2e" opacity=".9"/>
<circle cx="1158.7" cy="284.0" r="1.4" fill="#c49a2e" opacity=".9"/>
<circle cx="1252.3" cy="302.1" r="1.5" fill="#c49a2e" opacity=".9"/>
<circle cx="1162.3" cy="315.4" r="1.4" fill="#c49a2e" opacity=".9"/>
<circle cx="1213.7" cy="340.8" r="1.5" fill="#c49a2e" opacity=".9"/>
<circle cx="1221.6" cy="352.4" r="1.5" fill="#c49a2e" opacity=".9"/>
<circle cx="834.2" cy="430.0" r="1.4" fill="#c49a2e" opacity=".9"/>
<circle cx="830.6" cy="441.7" r="1.4" fill="#c49a2e" opacity=".9"/>
<circle cx="812.7" cy="463.3" r="1.4" fill="#c49a2e" opacity=".9"/>
<circle cx="1041.1" cy="440.9" r="1.5" fill="#c49a2e" opacity=".9"/>
<circle cx="999.6" cy="258.0" r="1.5" fill="#c49a2e" opacity=".9"/>
<circle cx="1037.4" cy="217.3" r="1.5" fill="#c49a2e" opacity=".9"/>
<circle cx="1026.7" cy="254.1" r="1.5" fill="#c49a2e" opacity=".9"/>
<circle cx="1051.0" cy="274.3" r="1.5" fill="#c49a2e" opacity=".9"/>
<circle cx="754.3" cy="310.2" r="1.4" fill="#c49a2e" opacity=".9"/>
<circle cx="783.1" cy="312.9" r="1.4" fill="#c49a2e" opacity=".9"/>
<circle cx="731.2" cy="322.8" r="1.4" fill="#c49a2e" opacity=".9"/>
<circle cx="747.2" cy="334.3" r="1.4" fill="#c49a2e" opacity=".9"/>
<circle cx="863.0" cy="370.3" r="1.4" fill="#c49a2e" opacity=".9"/>
<circle cx="849.6" cy="412.0" r="1.4" fill="#c49a2e" opacity=".9"/>
<circle cx="1255.8" cy="446.9" r="1.4" fill="#c49a2e" opacity=".9"/>
<circle cx="670.9" cy="205.3" r="4" fill="#f5d67c" fill-opacity=".9" stroke="#c9a13c" stroke-width="1"/>
<circle cx="722.8" cy="222" r="2.3" fill="#f7e3a4" stroke="#cba63e" stroke-width="1.3"/>
<circle cx="722.8" cy="237" r="3.1" fill="#f5d67c" fill-opacity=".9" stroke="#c9a13c" stroke-width="1"/>
<circle cx="773.2" cy="228.1" r="3.5" fill="#f5d67c" fill-opacity=".9" stroke="#c9a13c" stroke-width="1"/>
<circle cx="723.8" cy="261.7" r="2.3" fill="#f7e3a4" stroke="#cba63e" stroke-width="1.3"/>
<circle cx="686" cy="261.7" r="2.3" fill="#f7e3a4" stroke="#cba63e" stroke-width="1.3"/>
<circle cx="675.9" cy="269.7" r="2.3" fill="#f7e3a4" stroke="#cba63e" stroke-width="1.3"/>
<circle cx="751.6" cy="275.8" r="3.3" fill="#f5d67c" fill-opacity=".9" stroke="#c9a13c" stroke-width="1"/>
<circle cx="756" cy="291.1" r="4.2" fill="#f5d67c" fill-opacity=".9" stroke="#c9a13c" stroke-width="1"/>
<circle cx="1100.4" cy="293.8" r="2.3" fill="#f7e3a4" stroke="#cba63e" stroke-width="1.3"/>
<circle cx="1033.8" cy="429.9" r="2.1999999999999997" fill="#f7e3a4" stroke="#cba63e" stroke-width="1.3"/>
<circle cx="995.9" cy="194.4" r="3.5" fill="#f5d67c" fill-opacity=".9" stroke="#c9a13c" stroke-width="1"/>
<circle cx="955.8" cy="216.6" r="2.7" fill="#f5d67c" fill-opacity=".9" stroke="#c9a13c" stroke-width="1"/>
<circle cx="1002.5" cy="219.2" r="3.3" fill="#f5d67c" fill-opacity=".9" stroke="#c9a13c" stroke-width="1"/>
<circle cx="979.0" cy="238.1" r="3.4" fill="#f5d67c" fill-opacity=".9" stroke="#c9a13c" stroke-width="1"/>
<circle cx="991.6" cy="238.1" r="2.4" fill="#f7e3a4" stroke="#cba63e" stroke-width="1.3"/>
<circle cx="953.0" cy="245.3" r="2.4" fill="#f7e3a4" stroke="#cba63e" stroke-width="1.3"/>
<circle cx="954.8" cy="256.2" r="2.4" fill="#f7e3a4" stroke="#cba63e" stroke-width="1.3"/>
<circle cx="1033.9" cy="242.8" r="2.3" fill="#f7e3a4" stroke="#cba63e" stroke-width="1.3"/>
<circle cx="747.2" cy="239.6" r="5.8" fill="#f3a865" fill-opacity=".9" stroke="#cf7a32" stroke-width="1"/>
<circle cx="765" cy="253.3" r="5.8" fill="#f3a865" fill-opacity=".9" stroke="#cf7a32" stroke-width="1"/>
<circle cx="747.2" cy="263.2" r="5.8" fill="#f3a865" fill-opacity=".9" stroke="#cf7a32" stroke-width="1"/>
<circle cx="715.7" cy="277.6" r="5.2" fill="#f3a865" fill-opacity=".9" stroke="#cf7a32" stroke-width="1"/>
<circle cx="971.0" cy="203.8" r="6.7" fill="#f3a865" fill-opacity=".9" stroke="#cf7a32" stroke-width="1"/>
<circle cx="979.0" cy="221.7" r="6.7" fill="#f3a865" fill-opacity=".9" stroke="#cf7a32" stroke-width="1"/>
<circle cx="773.3" cy="244.4" r="8.2" fill="#86304f" fill-opacity=".9" stroke="#4a0d20" stroke-width="1"/>
<circle cx="951.9" cy="201.5" r="9.0" fill="#86304f" fill-opacity=".9" stroke="#4a0d20" stroke-width="1"/>
</svg>
<div class="ctl" style="left:678px;top:203px;width:26.5px;height:54px"></div>
<div class="abs" style="left:678px;top:229px;width:26.5px;height:1px;background:#d9deea"></div>
<svg class="abs" style="left:684.5px;top:208.700px" width="14" height="14" viewBox="0 0 14 14"><circle cx="7" cy="7" r="6.3" fill="#2b2e3a"/><path d="M7 3.6v6.8M3.600 7h6.800" stroke="#fff" stroke-width="1.15" stroke-linecap="round"/></svg>
<svg class="abs" style="left:684.5px;top:235.800px" width="14" height="14" viewBox="0 0 14 14"><circle cx="7" cy="7" r="6.3" fill="#2b2e3a"/><path d="M3.600 7h6.800" stroke="#fff" stroke-width="1.15" stroke-linecap="round"/></svg>
<div class="ctl" style="left:678px;top:266.500px;width:26.5px;height:26.5px"></div>
<svg class="abs" style="left:685px;top:273px" width="13" height="13" viewBox="0 0 13 13" fill="none" stroke="#2b2e3a" stroke-width="1.5"><path d="M3.300 0.500v9.200h9.200M0.500 3.300h9.200v9.200"/><path d="M4 9l5-5" stroke-width=".8"/></svg>
<div class="ctl" style="left:678px;top:302px;width:26.5px;height:53.500px"></div>
<div class="abs" style="left:678px;top:328px;width:26.5px;height:1px;background:#d9deea"></div>
<svg class="abs" style="left:685.500px;top:308px" width="12" height="12" viewBox="0 0 12 12"><path d="M6 0.400L11.600 4.500 9.400 11.200H2.600L0.400 4.500z" fill="#3a3a3a"/></svg>
<div class="abs" style="left:686.700px;top:336.200px;width:9.600px;height:9.600px;background:#3a3a3a"></div>
<div class="abs" style="left:1180px;top:417px;width:67px;height:87px;background:rgba(255,255,255,.93);border-radius:4px;box-shadow:0 1px 4px rgba(90,100,120,.25)"></div>
<svg class="abs" style="left:1186px;top:440px" width="14" height="56" viewBox="1186 440 14 56"><circle cx="1192.400" cy="445.9" r="3.900" fill="#f6d77c" stroke="#c2a040" stroke-width=".9"/><circle cx="1192.400" cy="460.9" r="3.900" fill="#f09c52" stroke="#c67630" stroke-width=".9"/><circle cx="1192.400" cy="475.2" r="3.900" fill="#e04b2e" stroke="#b8381e" stroke-width=".9"/><circle cx="1192.400" cy="489.8" r="3.900" fill="#6a1523" stroke="#3f0812" stroke-width=".9"/></svg>
<div class="abs" style="left:916.500px;top:514.300px;width:339.500px;height:12.400px;background:rgba(255,255,255,.78)"></div>
<svg class="abs" style="left:1250px;top:521.500px" width="8" height="8" viewBox="0 0 8 8" fill="none" stroke="#5a606d" stroke-width="1.800"><path d="M5.800 0.800V5.800H0.800"/></svg>

<div class="t" id="tD" style="left:62.30px;top:16.00px;font-size:11.3px;color:#000;font-weight:bold;">D</div>
<div class="t" id="tDash" style="left:101.55px;top:16.00px;font-size:12.8px;color:#5a5f6b;letter-spacing:0.145px;">Dashboard</div>
<div class="t" id="tEdit" style="left:180.90px;top:16.00px;font-size:12.8px;color:#22252c;letter-spacing:0.265px;-webkit-text-stroke:.25px #22252c;">Editing New Dashboard (unsaved)</div>
<div class="t" id="tSave" style="left:50.77px;top:55.00px;font-size:12.8px;color:#3168ad;letter-spacing:-0.250px;-webkit-text-stroke:.3px #3168ad;">Save</div>
<div class="t" id="tCancel" style="left:94.60px;top:55.00px;font-size:12.8px;color:#3168ad;letter-spacing:0.342px;-webkit-text-stroke:.3px #3168ad;">Cancel</div>
<div class="t" id="tAdd" style="left:150.60px;top:55.00px;font-size:12.8px;color:#3168ad;letter-spacing:0.324px;-webkit-text-stroke:.3px #3168ad;">Add</div>
<div class="t" id="tOptions" style="left:189.40px;top:55.00px;font-size:12.8px;color:#3168ad;letter-spacing:0.433px;-webkit-text-stroke:.3px #3168ad;">Options</div>
<div class="t" id="tShare" style="left:250.70px;top:55.00px;font-size:12.8px;color:#3168ad;letter-spacing:0.092px;-webkit-text-stroke:.3px #3168ad;">Share</div>
<div class="t" id="tFilters" style="left:58.80px;top:93.00px;font-size:12.7px;color:#22252c;font-weight:bold;">Filters</div>
<div class="t" id="tSearch" style="left:117.30px;top:93.00px;font-size:12.7px;color:#6c7280;letter-spacing:-0.169px;">Search</div>
<div class="t" id="tKQL" style="left:684.70px;top:93.00px;font-size:12.3px;color:#3168ad;letter-spacing:-0.233px;">KQL</div>
<div class="t" id="tDate1" style="left:787.25px;top:93.00px;font-size:12.5px;color:#343741;letter-spacing:-0.007px;">Sep 29, 2019 @ 18:11:43.2</div>
<div class="t" id="tDate2" style="left:978.70px;top:93.00px;font-size:12.5px;color:#343741;letter-spacing:0.012px;">Sep 29, 2019 @ 18:11:43.4</div>
<div class="t" id="tRefresh" style="left:1194.80px;top:92.00px;font-size:14.6px;color:#fff;letter-spacing:0.136px;-webkit-text-stroke:.45px #fff;">Refresh</div>
<div class="t" id="tAddf" style="left:91.80px;top:131.00px;font-size:12.8px;color:#3168ad;letter-spacing:0.221px;-webkit-text-stroke:.2px #3168ad;">+ Add filter</div>
<div class="t" id="tTop10" style="left:58.80px;top:173.00px;font-size:11.0px;color:#1a1c21;font-weight:bold;letter-spacing:-0.097px;">top 10 cities</div>
<div class="t" id="tCity" style="left:669.30px;top:173.00px;font-size:11.0px;color:#1a1c21;font-weight:bold;letter-spacing:-0.128px;">city_distribution</div>
<div class="t" id="tCount" style="left:1187.90px;top:427.00px;font-size:10.0px;color:#5a5e6a;font-weight:bold;letter-spacing:-0.137px;">Count</div>
<div class="t" id="tLg0" style="left:1201.00px;top:442.00px;font-size:10.0px;color:#5a5e6a;letter-spacing:-0.588px;">1 – 28</div>
<div class="t" id="tLg1" style="left:1200.70px;top:457.00px;font-size:10.0px;color:#5a5e6a;letter-spacing:-0.050px;">28 – 55</div>
<div class="t" id="tLg2" style="left:1200.70px;top:472.00px;font-size:10.0px;color:#5a5e6a;letter-spacing:-0.050px;">55 – 82</div>
<div class="t" id="tLg3" style="left:1200.70px;top:486.00px;font-size:10.0px;color:#5a5e6a;letter-spacing:-0.152px;">82 – 109</div>
<div class="t" id="tAttr" style="left:919.20px;top:515.00px;font-size:9.75px;color:#333;letter-spacing:0.039px;">OpenStreetMap contributors, OpenMapTiles, MapTiler, Elastic Maps Service</div>
<div class="t" id="tWm" style="left:659.00px;top:679.00px;font-size:37px;color:#fff;letter-spacing:2.257px;opacity:.92;">https:</div>
<div class="t" id="tWm2" style="left:785.00px;top:679.00px;font-size:37px;color:#fff;letter-spacing:1.048px;opacity:.92;">blog.csdn.net/UbuntuTouch</div>
<div class="t" id="tWm3" style="left:757.00px;top:679.00px;font-size:37px;color:#fff;opacity:.92;">/</div>
<div class="t" id="tWm4" style="left:770.00px;top:679.00px;font-size:37px;color:#fff;opacity:.92;">/</div>
<div class="t" id="tAt" style="left:1104.40px;top:700.00px;font-size:18.2px;color:#8e8e8e;">@</div>
<div class="t" id="tL0" style="left:526.60px;top:200.00px;font-size:10.1px;color:#5b5e6a;letter-spacing:0.806px;">London</div>
<div class="t" id="tL1" style="left:526.60px;top:221.00px;font-size:10.1px;color:#5b5e6a;letter-spacing:0.411px;">Calgary</div>
<div class="t" id="tL2" style="left:526.60px;top:242.00px;font-size:10.1px;color:#5b5e6a;letter-spacing:0.566px;">Den Haag</div>
<div class="t" id="tL3" style="left:526.60px;top:263.00px;font-size:10.1px;color:#5b5e6a;letter-spacing:0.786px;">Houston</div>
<div class="t" id="tL4" style="left:526.60px;top:284.00px;font-size:10.1px;color:#5b5e6a;letter-spacing:0.560px;">New York</div>
<div class="t" id="tL5" style="left:526.60px;top:306.00px;font-size:10.1px;color:#5b5e6a;letter-spacing:0.557px;">Vancouver</div>
<div class="t" id="tL6" style="left:526.60px;top:327.00px;font-size:10.1px;color:#5b5e6a;letter-spacing:0.684px;">Arlington</div>
<div class="t" id="tL7" style="left:526.60px;top:348.00px;font-size:10.1px;color:#5b5e6a;letter-spacing:0.652px;">Melbourne</div>
<div class="t" id="tL8" style="left:526.60px;top:369.00px;font-size:10.1px;color:#5b5e6a;letter-spacing:0.498px;">Seattle</div>
<div class="t" id="tL9" style="left:526.60px;top:390.00px;font-size:10.1px;color:#5b5e6a;letter-spacing:0.672px;">Austin</div>
<!-- WATERMARK -->
<svg class="abs" style="left:0;top:0" width="1271" height="726" viewBox="0 0 1271 726" fill="none" stroke-linecap="round" stroke-linejoin="round"><g stroke="#fff" stroke-width="18" opacity=".8"><path transform="translate(1122.50,700.00) scale(0.176)" d="M35 8L12 16M5 30H45M25 14V95M25 35L5 65M25 35L45 60M55 8L90 30M90 8L55 30M48 40H98M70 30L50 60M55 85V55H92V85M73 45V98"/><path transform="translate(1140.15,700.00) scale(0.176)" d="M20 40H80M50 10V88M5 88H95"/><path transform="translate(1157.80,700.00) scale(0.176)" d="M5 28H38M22 5V95L12 88M5 65L38 50M45 10H95V32H45M45 10V60L38 95M70 38V95M55 45V62H88V45M50 72V93H93V72"/><path transform="translate(1175.45,700.00) scale(0.176)" d="M50 5L5 45M50 5L95 45M28 40H72M18 60H82M50 40V92M28 68L35 82M72 68L65 82M5 93H95"/><path transform="translate(1193.10,700.00) scale(0.176)" d="M5 28H38M22 5V95L12 88M5 65L38 50M45 25H98M70 5V42M50 45H90L48 95M58 58L98 95"/><path transform="translate(1210.75,700.00) scale(0.176)" d="M5 32H95M50 5V95M48 35L8 85M52 35L92 85M70 10L82 20"/><path transform="translate(1228.40,700.00) scale(0.176)" d="M20 5L28 15M5 28H38L10 60M24 45V95M28 50L40 62M55 42H92M73 10V88M45 90H98"/><path transform="translate(1246.05,700.00) scale(0.176)" d="M10 12H92M10 12V90H95M28 28L78 75M78 28L28 75"/></g><g stroke="#959595" stroke-width="6.5"><path transform="translate(1122.50,700.00) scale(0.176)" d="M35 8L12 16M5 30H45M25 14V95M25 35L5 65M25 35L45 60M55 8L90 30M90 8L55 30M48 40H98M70 30L50 60M55 85V55H92V85M73 45V98"/><path transform="translate(1140.15,700.00) scale(0.176)" d="M20 40H80M50 10V88M5 88H95"/><path transform="translate(1157.80,700.00) scale(0.176)" d="M5 28H38M22 5V95L12 88M5 65L38 50M45 10H95V32H45M45 10V60L38 95M70 38V95M55 45V62H88V45M50 72V93H93V72"/><path transform="translate(1175.45,700.00) scale(0.176)" d="M50 5L5 45M50 5L95 45M28 40H72M18 60H82M50 40V92M28 68L35 82M72 68L65 82M5 93H95"/><path transform="translate(1193.10,700.00) scale(0.176)" d="M5 28H38M22 5V95L12 88M5 65L38 50M45 25H98M70 5V42M50 45H90L48 95M58 58L98 95"/><path transform="translate(1210.75,700.00) scale(0.176)" d="M5 32H95M50 5V95M48 35L8 85M52 35L92 85M70 10L82 20"/><path transform="translate(1228.40,700.00) scale(0.176)" d="M20 5L28 15M5 28H38L10 60M24 45V95M28 50L40 62M55 42H92M73 10V88M45 90H98"/><path transform="translate(1246.05,700.00) scale(0.176)" d="M10 12H92M10 12V90H95M28 28L78 75M78 28L28 75"/></g><path d="M1271 719.5A6.5 6.5 0 0 1 1264.5 726H1271Z" fill="#2a2a2a" stroke="none"/><path d="M0 720.5A5.5 5.5 0 0 0 5.5 726H0Z" fill="#2a2a2a" stroke="none"/></svg>
</body>
</html>
